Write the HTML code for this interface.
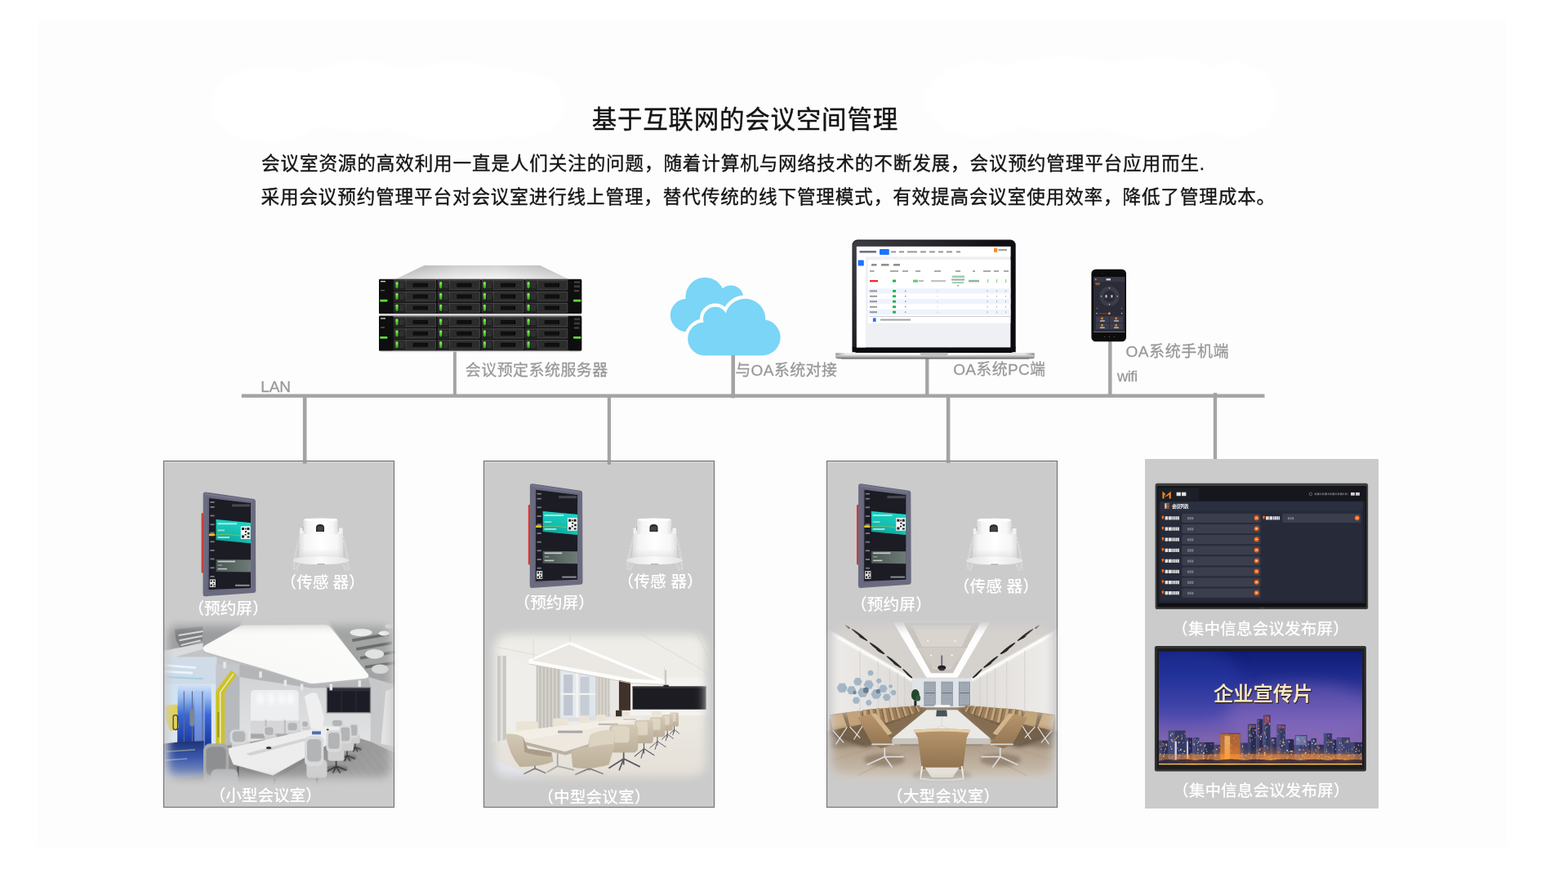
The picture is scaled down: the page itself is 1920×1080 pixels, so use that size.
<!DOCTYPE html><html lang="zh"><head><meta charset="utf-8"><title>基于互联网的会议空间管理</title><style>html,body{margin:0;padding:0;background:#fff;}body{width:1920px;height:1080px;overflow:hidden;position:relative;font-family:"Liberation Sans","Noto Sans CJK SC",sans-serif;}svg{position:absolute;left:0;top:0;display:block}svg text{font-family:"Liberation Sans","Noto Sans CJK SC",sans-serif;white-space:pre}</style></head><body><svg width="1920" height="1080" viewBox="0 0 1920 1080"><defs><filter id="b1" x="-0.2" y="-0.2" width="1.4" height="1.4"><feGaussianBlur stdDeviation="1"/></filter><filter id="b2" x="-0.2" y="-0.2" width="1.4" height="1.4"><feGaussianBlur stdDeviation="2"/></filter><filter id="b3" x="-0.2" y="-0.2" width="1.4" height="1.4"><feGaussianBlur stdDeviation="3"/></filter><filter id="b5" x="-0.4" y="-0.4" width="1.8" height="1.8"><feGaussianBlur stdDeviation="5"/></filter><filter id="b8" x="-0.5" y="-0.5" width="2.0" height="2.0"><feGaussianBlur stdDeviation="8"/></filter><filter id="bh" x="-0.2" y="-0.2" width="1.4" height="1.4"><feGaussianBlur stdDeviation="0.6"/></filter><linearGradient id="svTop" x1="0" y1="0" x2="1" y2="0"><stop offset="0" stop-color="#b9b9b9"/><stop offset="0.35" stop-color="#e9e9e9"/><stop offset="0.6" stop-color="#f2f2f2"/><stop offset="1" stop-color="#c2c2c2"/></linearGradient><linearGradient id="svTopV" x1="0" y1="0" x2="0" y2="1"><stop offset="0" stop-color="#9a9a9a"/><stop offset="1" stop-color="#ffffff"/></linearGradient><linearGradient id="svBay" x1="0" y1="0" x2="0" y2="1"><stop offset="0" stop-color="#3a3a3a"/><stop offset="0.5" stop-color="#262626"/><stop offset="1" stop-color="#1c1c1c"/></linearGradient><linearGradient id="svLed" x1="0" y1="0" x2="0" y2="1"><stop offset="0" stop-color="#9cf06a"/><stop offset="0.5" stop-color="#4fd12e"/><stop offset="1" stop-color="#2c9a1a"/></linearGradient><linearGradient id="lpBezel" x1="0" y1="0" x2="1" y2="0.7"><stop offset="0" stop-color="#3e3e46"/><stop offset="0.3" stop-color="#2a2a30"/><stop offset="0.6" stop-color="#101014"/><stop offset="1" stop-color="#0a0a0c"/></linearGradient><linearGradient id="lpBase" x1="0" y1="0" x2="0" y2="1"><stop offset="0" stop-color="#f4f4f4"/><stop offset="0.35" stop-color="#d9d9d9"/><stop offset="0.7" stop-color="#a9a9a9"/><stop offset="1" stop-color="#6f6f6f"/></linearGradient><linearGradient id="lpBaseH" x1="0" y1="0" x2="1" y2="0"><stop offset="0" stop-color="#8e8e8e"/><stop offset="0.05" stop-color="#e9e9e9"/><stop offset="0.5" stop-color="#ffffff"/><stop offset="0.95" stop-color="#e3e3e3"/><stop offset="1" stop-color="#8a8a8a"/></linearGradient><linearGradient id="tbTeal" x1="0.2" y1="0" x2="0.5" y2="1"><stop offset="0" stop-color="#1ed0bf"/><stop offset="0.55" stop-color="#14b3a6"/><stop offset="1" stop-color="#0c8f87"/></linearGradient><linearGradient id="tbTealH" x1="0" y1="0" x2="1" y2="0"><stop offset="0" stop-color="#0fe0d0" stop-opacity="0"/><stop offset="1" stop-color="#22ecdc" stop-opacity="0.55"/></linearGradient><linearGradient id="tbGray" x1="0" y1="0" x2="1" y2="0"><stop offset="0" stop-color="#4a5553"/><stop offset="1" stop-color="#6e7c77"/></linearGradient><linearGradient id="tbFrame" x1="0" y1="0" x2="1" y2="0"><stop offset="0" stop-color="#62627a"/><stop offset="1" stop-color="#74748a"/></linearGradient><linearGradient id="snBody" x1="0" y1="0" x2="1" y2="0"><stop offset="0" stop-color="#dcdcdc"/><stop offset="0.14" stop-color="#f4f4f4"/><stop offset="0.5" stop-color="#ffffff"/><stop offset="0.86" stop-color="#f6f6f6"/><stop offset="1" stop-color="#dedede"/></linearGradient><linearGradient id="snShade" x1="0" y1="0" x2="0" y2="1"><stop offset="0" stop-color="#d0d0d0" stop-opacity="0"/><stop offset="1" stop-color="#cfcfcf" stop-opacity="0.55"/></linearGradient><linearGradient id="snFl" x1="0" y1="0" x2="1" y2="0"><stop offset="0" stop-color="#e2e2e2"/><stop offset="0.5" stop-color="#fafafa"/><stop offset="1" stop-color="#e4e4e4"/></linearGradient><linearGradient id="sky" x1="0" y1="0" x2="0" y2="1"><stop offset="0" stop-color="#101c74"/><stop offset="0.22" stop-color="#1f2c8e"/><stop offset="0.45" stop-color="#4743a2"/><stop offset="0.62" stop-color="#6a58b2"/><stop offset="0.78" stop-color="#8064ae"/><stop offset="0.9" stop-color="#7a5a98"/><stop offset="1" stop-color="#5a4070"/></linearGradient><radialGradient id="glow" cx="0.5" cy="0.5" r="0.5"><stop offset="0" stop-color="#ffb347" stop-opacity="0.95"/><stop offset="0.45" stop-color="#ff8a2a" stop-opacity="0.45"/><stop offset="1" stop-color="#ff8a2a" stop-opacity="0"/></radialGradient><clipPath id="tv2c"><rect x="108" y="125" width="1120" height="625"/></clipPath><filter id="tvb" x="-0.3" y="-0.3" width="1.6" height="1.6"><feGaussianBlur stdDeviation="40"/></filter><filter id="s2" x="-0.15" y="-0.15" width="1.3" height="1.3"><feGaussianBlur stdDeviation="2.5"/></filter><filter id="s5" x="-0.15" y="-0.15" width="1.3" height="1.3"><feGaussianBlur stdDeviation="5"/></filter><filter id="s10" x="-0.15" y="-0.15" width="1.3" height="1.3"><feGaussianBlur stdDeviation="10"/></filter><filter id="s20" x="-0.15" y="-0.15" width="1.3" height="1.3"><feGaussianBlur stdDeviation="20"/></filter><filter id="R1f" filterUnits="userSpaceOnUse" x="-200" y="-172" width="1861" height="1414"><feGaussianBlur stdDeviation="26"/></filter><mask id="R1" maskUnits="userSpaceOnUse" x="-200" y="-172" width="1861" height="1414"><rect x="30" y="58" width="1401" height="954" rx="60" fill="#fff" filter="url(#R1f)"/></mask><linearGradient id="r1blue" x1="0" y1="0" x2="0" y2="1"><stop offset="0" stop-color="#d5e4f7"/><stop offset="0.18" stop-color="#93b7f0"/><stop offset="0.4" stop-color="#3a68d8"/><stop offset="0.68" stop-color="#2446b0"/><stop offset="1" stop-color="#14204e"/></linearGradient><linearGradient id="r1refl" x1="0" y1="0" x2="0" y2="1"><stop offset="0" stop-color="#1e3276"/><stop offset="0.4" stop-color="#3b59ae"/><stop offset="1" stop-color="#a2abc0"/></linearGradient><linearGradient id="r1pan" x1="0" y1="1" x2="1" y2="0"><stop offset="0" stop-color="#ecece9"/><stop offset="0.3" stop-color="#f9f9f7"/><stop offset="1" stop-color="#fdfdfc"/></linearGradient><linearGradient id="r1fl" x1="0" y1="0" x2="1" y2="0.3"><stop offset="0" stop-color="#929395"/><stop offset="0.6" stop-color="#8f8f8f"/><stop offset="1" stop-color="#9f9f9f"/></linearGradient><linearGradient id="r1wall" x1="0" y1="0" x2="0" y2="1"><stop offset="0" stop-color="#cfd1d3"/><stop offset="1" stop-color="#e2e3e5"/></linearGradient><filter id="R2f" filterUnits="userSpaceOnUse" x="-170" y="-178" width="1882" height="1424"><feGaussianBlur stdDeviation="33"/></filter><mask id="R2" maskUnits="userSpaceOnUse" x="-170" y="-178" width="1882" height="1424"><rect x="72" y="64" width="1398" height="940" rx="90" fill="#fff" filter="url(#R2f)"/></mask><linearGradient id="r2fl" x1="0" y1="0" x2="0" y2="1"><stop offset="0" stop-color="#ece9e3"/><stop offset="1" stop-color="#e3ded5"/></linearGradient><linearGradient id="r2ch" x1="0" y1="0" x2="0" y2="1"><stop offset="0" stop-color="#d4c9b6"/><stop offset="1" stop-color="#bcb09a"/></linearGradient><filter id="R3f" filterUnits="userSpaceOnUse" x="-200" y="-190" width="1882" height="1440"><feGaussianBlur stdDeviation="30"/></filter><mask id="R3" maskUnits="userSpaceOnUse" x="-200" y="-190" width="1882" height="1440"><rect x="38" y="48" width="1406" height="964" rx="80" fill="#fff" filter="url(#R3f)"/></mask><linearGradient id="r3fl" x1="0" y1="0" x2="0" y2="1"><stop offset="0" stop-color="#998670"/><stop offset="0.35" stop-color="#a8957e"/><stop offset="0.75" stop-color="#c2b5a4"/><stop offset="1" stop-color="#dcd5cc"/></linearGradient><linearGradient id="r3l" x1="0" y1="0" x2="1" y2="0"><stop offset="0" stop-color="#efedeb"/><stop offset="1" stop-color="#dcd9d5"/></linearGradient><linearGradient id="r3r" x1="0" y1="0" x2="1" y2="0"><stop offset="0" stop-color="#dedbd7"/><stop offset="1" stop-color="#f0eeec"/></linearGradient><linearGradient id="r3ch" x1="0" y1="0" x2="0" y2="1"><stop offset="0" stop-color="#b8966d"/><stop offset="1" stop-color="#8f7250"/></linearGradient></defs><rect x="0" y="0" width="1920" height="1080" fill="#fff"/><rect x="45" y="26" width="1800" height="1011" fill="#fdfdfd"/><g fill="#fff" filter="url(#b3)"><ellipse cx="330" cy="128" rx="72" ry="46" fill="#fff"/><ellipse cx="440" cy="118" rx="90" ry="42" fill="#fff"/><ellipse cx="560" cy="125" rx="110" ry="48" fill="#fff"/><ellipse cx="640" cy="128" rx="50" ry="40" fill="#fff"/><ellipse cx="1200" cy="122" rx="68" ry="46" fill="#fff"/><ellipse cx="1300" cy="115" rx="100" ry="46" fill="#fff"/><ellipse cx="1420" cy="120" rx="100" ry="50" fill="#fff"/><ellipse cx="1510" cy="122" rx="52" ry="46" fill="#fff"/></g><g><circle cx="863.3" cy="363.6" r="23.9" fill="#7ad5f6"/><circle cx="895" cy="364.6" r="15.2" fill="#7ad5f6"/><circle cx="841" cy="386" r="20.2" fill="#7ad5f6"/><rect x="845" y="364" width="60" height="36" fill="#7ad5f6"/></g><g stroke="#fdfdfd" stroke-width="8.4" stroke-linejoin="round"><circle cx="862.6" cy="414.9" r="20.4" fill="#fdfdfd"/><circle cx="933.6" cy="413.2" r="22" fill="#fdfdfd"/><circle cx="912.5" cy="390.6" r="24.8" fill="#fdfdfd"/><circle cx="875.8" cy="390.6" r="14.8" fill="#fdfdfd"/><rect x="862.6" y="404" width="71" height="31.3" fill="#fdfdfd"/><rect x="870" y="392" width="60" height="28" fill="#fdfdfd"/></g><g><circle cx="862.6" cy="414.9" r="20.4" fill="#7ad5f6"/><circle cx="933.6" cy="413.2" r="22" fill="#7ad5f6"/><circle cx="912.5" cy="390.6" r="24.8" fill="#7ad5f6"/><circle cx="875.8" cy="390.6" r="14.8" fill="#7ad5f6"/><rect x="862.6" y="404" width="71" height="31.3" fill="#7ad5f6"/><rect x="870" y="392" width="60" height="28" fill="#7ad5f6"/></g><rect x="295.8" y="482.5" width="1252.7" height="4.4" fill="#a3a4a3"/><rect x="370.9" y="486" width="4.6" height="81.7" fill="#a3a4a3"/><rect x="555" y="430" width="3.9" height="54" fill="#a3a4a3"/><rect x="743.8" y="486" width="4.2" height="82.8" fill="#a3a4a3"/><rect x="895.4" y="435" width="4.6" height="52.5" fill="#a3a4a3"/><rect x="1133.1" y="438.5" width="4.3" height="45.5" fill="#a3a4a3"/><rect x="1158.8" y="486" width="4.6" height="81" fill="#a3a4a3"/><rect x="1357.1" y="417.5" width="4.4" height="66.5" fill="#a3a4a3"/><rect x="1485.8" y="481" width="4.3" height="82" fill="#a3a4a3"/><rect x="200.5" y="564.5" width="282" height="423.9" fill="#cbcbcb" stroke="#6c6c6c" stroke-width="1.05"/><path d="M201.5 566 H481.5" stroke="#d9d9d9" stroke-width="1" opacity="0.8"/><rect x="592.5" y="564.5" width="282" height="423.9" fill="#cbcbcb" stroke="#6c6c6c" stroke-width="1.05"/><path d="M593.5 566 H873.5" stroke="#d9d9d9" stroke-width="1" opacity="0.8"/><rect x="1012.5" y="564.5" width="282" height="423.9" fill="#cbcbcb" stroke="#6c6c6c" stroke-width="1.05"/><path d="M1013.5 566 H1293.5" stroke="#d9d9d9" stroke-width="1" opacity="0.8"/><rect x="1402" y="562" width="286" height="428" fill="#cbcbcb"/><rect x="370.9" y="563" width="4.6" height="4.7" fill="#9c9c9c"/><rect x="743.8" y="563" width="4.2" height="5.8" fill="#9c9c9c"/><rect x="1158.8" y="563" width="4.6" height="4" fill="#9c9c9c"/><polygon points="519.6,325 661.3,325 696.5,341.9 484.4,341.9" fill="url(#svTop)"/><polygon points="519.6,325 661.3,325 696.5,341.9 484.4,341.9" fill="url(#svTopV)" opacity="0.35"/><rect x="464" y="341.7" width="248.2" height="42.6" fill="#141414" rx="1.2"/><rect x="481.5" y="341.7" width="214.5" height="0.9" fill="#8a8a8a"/><rect x="482.2" y="342.6" width="52.2" height="13" fill="#0c0c0c"/><rect x="482.8" y="343.2" width="51" height="11.8" fill="url(#svBay)" stroke="#4c4c4c" stroke-width="0.5"/><rect x="484.4" y="345.2" width="3.2" height="8" fill="url(#svLed)" rx="1.4"/><rect x="488.6" y="345" width="6.6" height="8.4" fill="#2f2f2f" stroke="#1a1a1a" stroke-width="0.5"/><rect x="497" y="343.8" width="36.4" height="10.7" fill="#2c2c2c" stroke="#555" stroke-width="0.5"/><rect x="505.7" y="346.8" width="18" height="4.7" fill="#050505"/><path d="M506.7 348.2h16M506.7 350.1h16" stroke="#3c3c3c" stroke-width="0.7" stroke-dasharray="1.1 0.9" fill="none"/><rect x="535.9" y="342.6" width="52.2" height="13" fill="#0c0c0c"/><rect x="536.5" y="343.2" width="51" height="11.8" fill="url(#svBay)" stroke="#4c4c4c" stroke-width="0.5"/><rect x="538.1" y="345.2" width="3.2" height="8" fill="url(#svLed)" rx="1.4"/><rect x="542.3" y="345" width="6.6" height="8.4" fill="#2f2f2f" stroke="#1a1a1a" stroke-width="0.5"/><rect x="550.7" y="343.8" width="36.4" height="10.7" fill="#2c2c2c" stroke="#555" stroke-width="0.5"/><rect x="559.4" y="346.8" width="18" height="4.7" fill="#050505"/><path d="M560.4 348.2h16M560.4 350.1h16" stroke="#3c3c3c" stroke-width="0.7" stroke-dasharray="1.1 0.9" fill="none"/><rect x="589.6" y="342.6" width="52.2" height="13" fill="#0c0c0c"/><rect x="590.2" y="343.2" width="51" height="11.8" fill="url(#svBay)" stroke="#4c4c4c" stroke-width="0.5"/><rect x="591.8" y="345.2" width="3.2" height="8" fill="url(#svLed)" rx="1.4"/><rect x="596" y="345" width="6.6" height="8.4" fill="#2f2f2f" stroke="#1a1a1a" stroke-width="0.5"/><rect x="604.4" y="343.8" width="36.4" height="10.7" fill="#2c2c2c" stroke="#555" stroke-width="0.5"/><rect x="613.1" y="346.8" width="18" height="4.7" fill="#050505"/><path d="M614.1 348.2h16M614.1 350.1h16" stroke="#3c3c3c" stroke-width="0.7" stroke-dasharray="1.1 0.9" fill="none"/><rect x="643.3" y="342.6" width="52.2" height="13" fill="#0c0c0c"/><rect x="643.9" y="343.2" width="51" height="11.8" fill="url(#svBay)" stroke="#4c4c4c" stroke-width="0.5"/><rect x="645.5" y="345.2" width="3.2" height="8" fill="url(#svLed)" rx="1.4"/><rect x="649.7" y="345" width="6.6" height="8.4" fill="#2f2f2f" stroke="#1a1a1a" stroke-width="0.5"/><rect x="658.1" y="343.8" width="36.4" height="10.7" fill="#2c2c2c" stroke="#555" stroke-width="0.5"/><rect x="666.8" y="346.8" width="18" height="4.7" fill="#050505"/><path d="M667.8 348.2h16M667.8 350.1h16" stroke="#3c3c3c" stroke-width="0.7" stroke-dasharray="1.1 0.9" fill="none"/><rect x="482.2" y="356.5" width="52.2" height="13" fill="#0c0c0c"/><rect x="482.8" y="357.1" width="51" height="11.8" fill="url(#svBay)" stroke="#4c4c4c" stroke-width="0.5"/><rect x="484.4" y="359.1" width="3.2" height="8" fill="url(#svLed)" rx="1.4"/><rect x="488.6" y="358.9" width="6.6" height="8.4" fill="#2f2f2f" stroke="#1a1a1a" stroke-width="0.5"/><rect x="497" y="357.7" width="36.4" height="10.7" fill="#2c2c2c" stroke="#555" stroke-width="0.5"/><rect x="505.7" y="360.7" width="18" height="4.7" fill="#050505"/><path d="M506.7 362.1h16M506.7 364h16" stroke="#3c3c3c" stroke-width="0.7" stroke-dasharray="1.1 0.9" fill="none"/><rect x="535.9" y="356.5" width="52.2" height="13" fill="#0c0c0c"/><rect x="536.5" y="357.1" width="51" height="11.8" fill="url(#svBay)" stroke="#4c4c4c" stroke-width="0.5"/><rect x="538.1" y="359.1" width="3.2" height="8" fill="url(#svLed)" rx="1.4"/><rect x="542.3" y="358.9" width="6.6" height="8.4" fill="#2f2f2f" stroke="#1a1a1a" stroke-width="0.5"/><rect x="550.7" y="357.7" width="36.4" height="10.7" fill="#2c2c2c" stroke="#555" stroke-width="0.5"/><rect x="559.4" y="360.7" width="18" height="4.7" fill="#050505"/><path d="M560.4 362.1h16M560.4 364h16" stroke="#3c3c3c" stroke-width="0.7" stroke-dasharray="1.1 0.9" fill="none"/><rect x="589.6" y="356.5" width="52.2" height="13" fill="#0c0c0c"/><rect x="590.2" y="357.1" width="51" height="11.8" fill="url(#svBay)" stroke="#4c4c4c" stroke-width="0.5"/><rect x="591.8" y="359.1" width="3.2" height="8" fill="url(#svLed)" rx="1.4"/><rect x="596" y="358.9" width="6.6" height="8.4" fill="#2f2f2f" stroke="#1a1a1a" stroke-width="0.5"/><rect x="604.4" y="357.7" width="36.4" height="10.7" fill="#2c2c2c" stroke="#555" stroke-width="0.5"/><rect x="613.1" y="360.7" width="18" height="4.7" fill="#050505"/><path d="M614.1 362.1h16M614.1 364h16" stroke="#3c3c3c" stroke-width="0.7" stroke-dasharray="1.1 0.9" fill="none"/><rect x="643.3" y="356.5" width="52.2" height="13" fill="#0c0c0c"/><rect x="643.9" y="357.1" width="51" height="11.8" fill="url(#svBay)" stroke="#4c4c4c" stroke-width="0.5"/><rect x="645.5" y="359.1" width="3.2" height="8" fill="url(#svLed)" rx="1.4"/><rect x="649.7" y="358.9" width="6.6" height="8.4" fill="#2f2f2f" stroke="#1a1a1a" stroke-width="0.5"/><rect x="658.1" y="357.7" width="36.4" height="10.7" fill="#2c2c2c" stroke="#555" stroke-width="0.5"/><rect x="666.8" y="360.7" width="18" height="4.7" fill="#050505"/><path d="M667.8 362.1h16M667.8 364h16" stroke="#3c3c3c" stroke-width="0.7" stroke-dasharray="1.1 0.9" fill="none"/><rect x="482.2" y="370.4" width="52.2" height="13" fill="#0c0c0c"/><rect x="482.8" y="371" width="51" height="11.8" fill="url(#svBay)" stroke="#4c4c4c" stroke-width="0.5"/><rect x="484.4" y="373" width="3.2" height="8" fill="url(#svLed)" rx="1.4"/><rect x="488.6" y="372.8" width="6.6" height="8.4" fill="#2f2f2f" stroke="#1a1a1a" stroke-width="0.5"/><rect x="497" y="371.6" width="36.4" height="10.7" fill="#2c2c2c" stroke="#555" stroke-width="0.5"/><rect x="505.7" y="374.6" width="18" height="4.7" fill="#050505"/><path d="M506.7 376h16M506.7 377.9h16" stroke="#3c3c3c" stroke-width="0.7" stroke-dasharray="1.1 0.9" fill="none"/><rect x="535.9" y="370.4" width="52.2" height="13" fill="#0c0c0c"/><rect x="536.5" y="371" width="51" height="11.8" fill="url(#svBay)" stroke="#4c4c4c" stroke-width="0.5"/><rect x="538.1" y="373" width="3.2" height="8" fill="url(#svLed)" rx="1.4"/><rect x="542.3" y="372.8" width="6.6" height="8.4" fill="#2f2f2f" stroke="#1a1a1a" stroke-width="0.5"/><rect x="550.7" y="371.6" width="36.4" height="10.7" fill="#2c2c2c" stroke="#555" stroke-width="0.5"/><rect x="559.4" y="374.6" width="18" height="4.7" fill="#050505"/><path d="M560.4 376h16M560.4 377.9h16" stroke="#3c3c3c" stroke-width="0.7" stroke-dasharray="1.1 0.9" fill="none"/><rect x="589.6" y="370.4" width="52.2" height="13" fill="#0c0c0c"/><rect x="590.2" y="371" width="51" height="11.8" fill="url(#svBay)" stroke="#4c4c4c" stroke-width="0.5"/><rect x="591.8" y="373" width="3.2" height="8" fill="url(#svLed)" rx="1.4"/><rect x="596" y="372.8" width="6.6" height="8.4" fill="#2f2f2f" stroke="#1a1a1a" stroke-width="0.5"/><rect x="604.4" y="371.6" width="36.4" height="10.7" fill="#2c2c2c" stroke="#555" stroke-width="0.5"/><rect x="613.1" y="374.6" width="18" height="4.7" fill="#050505"/><path d="M614.1 376h16M614.1 377.9h16" stroke="#3c3c3c" stroke-width="0.7" stroke-dasharray="1.1 0.9" fill="none"/><rect x="643.3" y="370.4" width="52.2" height="13" fill="#0c0c0c"/><rect x="643.9" y="371" width="51" height="11.8" fill="url(#svBay)" stroke="#4c4c4c" stroke-width="0.5"/><rect x="645.5" y="373" width="3.2" height="8" fill="url(#svLed)" rx="1.4"/><rect x="649.7" y="372.8" width="6.6" height="8.4" fill="#2f2f2f" stroke="#1a1a1a" stroke-width="0.5"/><rect x="658.1" y="371.6" width="36.4" height="10.7" fill="#2c2c2c" stroke="#555" stroke-width="0.5"/><rect x="666.8" y="374.6" width="18" height="4.7" fill="#050505"/><path d="M667.8 376h16M667.8 377.9h16" stroke="#3c3c3c" stroke-width="0.7" stroke-dasharray="1.1 0.9" fill="none"/><rect x="464" y="342.3" width="17" height="41.7" fill="#0e0e0e" rx="1.4"/><rect x="465.2" y="366.7" width="9.3" height="2.8" fill="#62d83c" rx="0.8"/><rect x="466" y="343.9" width="6" height="1.4" fill="#cfcfcf"/><rect x="466" y="355.2" width="5" height="1" fill="#777"/><rect x="696.5" y="342.3" width="15.7" height="41.7" fill="#0e0e0e" rx="1.4"/><rect x="702" y="366.7" width="9.4" height="2.8" fill="#62d83c" rx="0.8"/><rect x="703" y="344.2" width="7" height="2.7" fill="#3a3a3a"/><rect x="703" y="349.3" width="7" height="2.8" fill="#3a3a3a"/><rect x="703" y="355.1" width="6" height="2.2" fill="#444"/><rect x="464.5" y="384.3" width="247.3" height="2.9" fill="#d6d6d6"/><rect x="464.5" y="386.4" width="247.3" height="0.8" fill="#8c8c8c"/><rect x="464" y="387" width="248.2" height="42.6" fill="#141414" rx="1.2"/><rect x="481.5" y="387" width="214.5" height="0.9" fill="#8a8a8a"/><rect x="482.2" y="387.9" width="52.2" height="13" fill="#0c0c0c"/><rect x="482.8" y="388.5" width="51" height="11.8" fill="url(#svBay)" stroke="#4c4c4c" stroke-width="0.5"/><rect x="484.4" y="390.5" width="3.2" height="8" fill="url(#svLed)" rx="1.4"/><rect x="488.6" y="390.3" width="6.6" height="8.4" fill="#2f2f2f" stroke="#1a1a1a" stroke-width="0.5"/><rect x="497" y="389.1" width="36.4" height="10.7" fill="#2c2c2c" stroke="#555" stroke-width="0.5"/><rect x="505.7" y="392.1" width="18" height="4.7" fill="#050505"/><path d="M506.7 393.5h16M506.7 395.4h16" stroke="#3c3c3c" stroke-width="0.7" stroke-dasharray="1.1 0.9" fill="none"/><rect x="535.9" y="387.9" width="52.2" height="13" fill="#0c0c0c"/><rect x="536.5" y="388.5" width="51" height="11.8" fill="url(#svBay)" stroke="#4c4c4c" stroke-width="0.5"/><rect x="538.1" y="390.5" width="3.2" height="8" fill="url(#svLed)" rx="1.4"/><rect x="542.3" y="390.3" width="6.6" height="8.4" fill="#2f2f2f" stroke="#1a1a1a" stroke-width="0.5"/><rect x="550.7" y="389.1" width="36.4" height="10.7" fill="#2c2c2c" stroke="#555" stroke-width="0.5"/><rect x="559.4" y="392.1" width="18" height="4.7" fill="#050505"/><path d="M560.4 393.5h16M560.4 395.4h16" stroke="#3c3c3c" stroke-width="0.7" stroke-dasharray="1.1 0.9" fill="none"/><rect x="589.6" y="387.9" width="52.2" height="13" fill="#0c0c0c"/><rect x="590.2" y="388.5" width="51" height="11.8" fill="url(#svBay)" stroke="#4c4c4c" stroke-width="0.5"/><rect x="591.8" y="390.5" width="3.2" height="8" fill="url(#svLed)" rx="1.4"/><rect x="596" y="390.3" width="6.6" height="8.4" fill="#2f2f2f" stroke="#1a1a1a" stroke-width="0.5"/><rect x="604.4" y="389.1" width="36.4" height="10.7" fill="#2c2c2c" stroke="#555" stroke-width="0.5"/><rect x="613.1" y="392.1" width="18" height="4.7" fill="#050505"/><path d="M614.1 393.5h16M614.1 395.4h16" stroke="#3c3c3c" stroke-width="0.7" stroke-dasharray="1.1 0.9" fill="none"/><rect x="643.3" y="387.9" width="52.2" height="13" fill="#0c0c0c"/><rect x="643.9" y="388.5" width="51" height="11.8" fill="url(#svBay)" stroke="#4c4c4c" stroke-width="0.5"/><rect x="645.5" y="390.5" width="3.2" height="8" fill="url(#svLed)" rx="1.4"/><rect x="649.7" y="390.3" width="6.6" height="8.4" fill="#2f2f2f" stroke="#1a1a1a" stroke-width="0.5"/><rect x="658.1" y="389.1" width="36.4" height="10.7" fill="#2c2c2c" stroke="#555" stroke-width="0.5"/><rect x="666.8" y="392.1" width="18" height="4.7" fill="#050505"/><path d="M667.8 393.5h16M667.8 395.4h16" stroke="#3c3c3c" stroke-width="0.7" stroke-dasharray="1.1 0.9" fill="none"/><rect x="482.2" y="401.8" width="52.2" height="13" fill="#0c0c0c"/><rect x="482.8" y="402.4" width="51" height="11.8" fill="url(#svBay)" stroke="#4c4c4c" stroke-width="0.5"/><rect x="484.4" y="404.4" width="3.2" height="8" fill="url(#svLed)" rx="1.4"/><rect x="488.6" y="404.2" width="6.6" height="8.4" fill="#2f2f2f" stroke="#1a1a1a" stroke-width="0.5"/><rect x="497" y="403" width="36.4" height="10.7" fill="#2c2c2c" stroke="#555" stroke-width="0.5"/><rect x="505.7" y="406" width="18" height="4.7" fill="#050505"/><path d="M506.7 407.4h16M506.7 409.3h16" stroke="#3c3c3c" stroke-width="0.7" stroke-dasharray="1.1 0.9" fill="none"/><rect x="535.9" y="401.8" width="52.2" height="13" fill="#0c0c0c"/><rect x="536.5" y="402.4" width="51" height="11.8" fill="url(#svBay)" stroke="#4c4c4c" stroke-width="0.5"/><rect x="538.1" y="404.4" width="3.2" height="8" fill="url(#svLed)" rx="1.4"/><rect x="542.3" y="404.2" width="6.6" height="8.4" fill="#2f2f2f" stroke="#1a1a1a" stroke-width="0.5"/><rect x="550.7" y="403" width="36.4" height="10.7" fill="#2c2c2c" stroke="#555" stroke-width="0.5"/><rect x="559.4" y="406" width="18" height="4.7" fill="#050505"/><path d="M560.4 407.4h16M560.4 409.3h16" stroke="#3c3c3c" stroke-width="0.7" stroke-dasharray="1.1 0.9" fill="none"/><rect x="589.6" y="401.8" width="52.2" height="13" fill="#0c0c0c"/><rect x="590.2" y="402.4" width="51" height="11.8" fill="url(#svBay)" stroke="#4c4c4c" stroke-width="0.5"/><rect x="591.8" y="404.4" width="3.2" height="8" fill="url(#svLed)" rx="1.4"/><rect x="596" y="404.2" width="6.6" height="8.4" fill="#2f2f2f" stroke="#1a1a1a" stroke-width="0.5"/><rect x="604.4" y="403" width="36.4" height="10.7" fill="#2c2c2c" stroke="#555" stroke-width="0.5"/><rect x="613.1" y="406" width="18" height="4.7" fill="#050505"/><path d="M614.1 407.4h16M614.1 409.3h16" stroke="#3c3c3c" stroke-width="0.7" stroke-dasharray="1.1 0.9" fill="none"/><rect x="643.3" y="401.8" width="52.2" height="13" fill="#0c0c0c"/><rect x="643.9" y="402.4" width="51" height="11.8" fill="url(#svBay)" stroke="#4c4c4c" stroke-width="0.5"/><rect x="645.5" y="404.4" width="3.2" height="8" fill="url(#svLed)" rx="1.4"/><rect x="649.7" y="404.2" width="6.6" height="8.4" fill="#2f2f2f" stroke="#1a1a1a" stroke-width="0.5"/><rect x="658.1" y="403" width="36.4" height="10.7" fill="#2c2c2c" stroke="#555" stroke-width="0.5"/><rect x="666.8" y="406" width="18" height="4.7" fill="#050505"/><path d="M667.8 407.4h16M667.8 409.3h16" stroke="#3c3c3c" stroke-width="0.7" stroke-dasharray="1.1 0.9" fill="none"/><rect x="482.2" y="415.7" width="52.2" height="13" fill="#0c0c0c"/><rect x="482.8" y="416.3" width="51" height="11.8" fill="url(#svBay)" stroke="#4c4c4c" stroke-width="0.5"/><rect x="484.4" y="418.3" width="3.2" height="8" fill="url(#svLed)" rx="1.4"/><rect x="488.6" y="418.1" width="6.6" height="8.4" fill="#2f2f2f" stroke="#1a1a1a" stroke-width="0.5"/><rect x="497" y="416.9" width="36.4" height="10.7" fill="#2c2c2c" stroke="#555" stroke-width="0.5"/><rect x="505.7" y="419.9" width="18" height="4.7" fill="#050505"/><path d="M506.7 421.3h16M506.7 423.2h16" stroke="#3c3c3c" stroke-width="0.7" stroke-dasharray="1.1 0.9" fill="none"/><rect x="535.9" y="415.7" width="52.2" height="13" fill="#0c0c0c"/><rect x="536.5" y="416.3" width="51" height="11.8" fill="url(#svBay)" stroke="#4c4c4c" stroke-width="0.5"/><rect x="538.1" y="418.3" width="3.2" height="8" fill="url(#svLed)" rx="1.4"/><rect x="542.3" y="418.1" width="6.6" height="8.4" fill="#2f2f2f" stroke="#1a1a1a" stroke-width="0.5"/><rect x="550.7" y="416.9" width="36.4" height="10.7" fill="#2c2c2c" stroke="#555" stroke-width="0.5"/><rect x="559.4" y="419.9" width="18" height="4.7" fill="#050505"/><path d="M560.4 421.3h16M560.4 423.2h16" stroke="#3c3c3c" stroke-width="0.7" stroke-dasharray="1.1 0.9" fill="none"/><rect x="589.6" y="415.7" width="52.2" height="13" fill="#0c0c0c"/><rect x="590.2" y="416.3" width="51" height="11.8" fill="url(#svBay)" stroke="#4c4c4c" stroke-width="0.5"/><rect x="591.8" y="418.3" width="3.2" height="8" fill="url(#svLed)" rx="1.4"/><rect x="596" y="418.1" width="6.6" height="8.4" fill="#2f2f2f" stroke="#1a1a1a" stroke-width="0.5"/><rect x="604.4" y="416.9" width="36.4" height="10.7" fill="#2c2c2c" stroke="#555" stroke-width="0.5"/><rect x="613.1" y="419.9" width="18" height="4.7" fill="#050505"/><path d="M614.1 421.3h16M614.1 423.2h16" stroke="#3c3c3c" stroke-width="0.7" stroke-dasharray="1.1 0.9" fill="none"/><rect x="643.3" y="415.7" width="52.2" height="13" fill="#0c0c0c"/><rect x="643.9" y="416.3" width="51" height="11.8" fill="url(#svBay)" stroke="#4c4c4c" stroke-width="0.5"/><rect x="645.5" y="418.3" width="3.2" height="8" fill="url(#svLed)" rx="1.4"/><rect x="649.7" y="418.1" width="6.6" height="8.4" fill="#2f2f2f" stroke="#1a1a1a" stroke-width="0.5"/><rect x="658.1" y="416.9" width="36.4" height="10.7" fill="#2c2c2c" stroke="#555" stroke-width="0.5"/><rect x="666.8" y="419.9" width="18" height="4.7" fill="#050505"/><path d="M667.8 421.3h16M667.8 423.2h16" stroke="#3c3c3c" stroke-width="0.7" stroke-dasharray="1.1 0.9" fill="none"/><rect x="464" y="387.6" width="17" height="41.7" fill="#0e0e0e" rx="1.4"/><rect x="465.2" y="412" width="9.3" height="2.8" fill="#62d83c" rx="0.8"/><rect x="466" y="389.2" width="6" height="1.4" fill="#cfcfcf"/><rect x="466" y="400.5" width="5" height="1" fill="#777"/><rect x="696.5" y="387.6" width="15.7" height="41.7" fill="#0e0e0e" rx="1.4"/><rect x="702" y="412" width="9.4" height="2.8" fill="#62d83c" rx="0.8"/><rect x="703" y="389.5" width="7" height="2.7" fill="#3a3a3a"/><rect x="703" y="394.6" width="7" height="2.8" fill="#3a3a3a"/><rect x="703" y="400.4" width="6" height="2.2" fill="#444"/><rect x="466" y="430" width="244" height="1.2" fill="#d0d0d0" opacity="0.7" filter="url(#bh)"/><rect x="1043.5" y="293.5" width="200.2" height="137.7" fill="#141418" rx="6.5"/><rect x="1044.3" y="294.4" width="198.4" height="137.8" fill="url(#lpBezel)" rx="5.8"/><rect x="1043.5" y="425" width="200.2" height="6.2" fill="#0b0b0e"/><rect x="1048.9" y="301.9" width="188.5" height="123.5" fill="#eef0f4"/><rect x="1048.9" y="301.9" width="188.5" height="12.4" fill="#ffffff"/><rect x="1048.9" y="314.3" width="11.1" height="111.1" fill="#ffffff"/><rect x="1062.8" y="318" width="174.6" height="77.7" fill="#ffffff"/><rect x="1050.6" y="318.4" width="7.2" height="7" fill="#1b74ff" rx="1"/><rect x="1077" y="304.9" width="11.8" height="7.1" fill="#1b74ff" rx="1.2"/><rect x="1217" y="304" width="4.2" height="4.8" fill="#ff8a1c"/><rect x="1222.5" y="305" width="10.5" height="2.2" fill="#555" opacity="0.55"/><rect x="1052.5" y="307" width="20.5" height="2.6" fill="#2b3a55" opacity="0.7"/><rect x="1091" y="307.4" width="6" height="2" fill="#444" opacity="0.55"/><rect x="1101" y="307.4" width="6" height="2" fill="#444" opacity="0.55"/><rect x="1111" y="307.4" width="12" height="2" fill="#444" opacity="0.55"/><rect x="1127" y="307.4" width="7" height="2" fill="#444" opacity="0.55"/><rect x="1138" y="307.4" width="7" height="2" fill="#444" opacity="0.55"/><rect x="1149" y="307.4" width="6" height="2" fill="#444" opacity="0.55"/><rect x="1159" y="307.4" width="7" height="2" fill="#444" opacity="0.55"/><rect x="1171" y="307.4" width="5" height="2" fill="#444" opacity="0.55"/><rect x="1067" y="323" width="6.5" height="2.6" fill="#444" opacity="0.6"/><rect x="1079" y="323" width="9.5" height="2.6" fill="#444" opacity="0.6"/><rect x="1094" y="323" width="8" height="2.6" fill="#444" opacity="0.6"/><rect x="1065" y="331" width="5.5" height="2" fill="#666" opacity="0.55"/><rect x="1090" y="331" width="10" height="2" fill="#666" opacity="0.55"/><rect x="1105" y="331" width="7" height="2" fill="#666" opacity="0.55"/><rect x="1121" y="331" width="6" height="2" fill="#666" opacity="0.55"/><rect x="1144" y="331" width="8" height="2" fill="#666" opacity="0.55"/><rect x="1170" y="331" width="6" height="2" fill="#666" opacity="0.55"/><rect x="1191" y="331" width="3" height="2" fill="#666" opacity="0.55"/><rect x="1204" y="331" width="9" height="2" fill="#666" opacity="0.55"/><rect x="1217" y="331" width="6" height="2" fill="#666" opacity="0.55"/><rect x="1229" y="331" width="6" height="2" fill="#666" opacity="0.55"/><rect x="1065" y="343" width="10" height="2.2" fill="#f5222d"/><rect x="1093" y="342.5" width="4" height="3" fill="#22b14c"/><rect x="1118" y="342.6" width="6" height="3" fill="#22b14c" opacity="0.7"/><rect x="1125" y="343" width="6" height="2" fill="#777" opacity="0.5"/><rect x="1140" y="343" width="18" height="2.2" fill="#777" opacity="0.45"/><rect x="1166" y="337.5" width="15" height="2.5" fill="#4a6" opacity="0.55"/><rect x="1165" y="341.4" width="16" height="2.2" fill="#567" opacity="0.55"/><rect x="1166" y="345" width="14" height="2.2" fill="#4a6" opacity="0.5"/><rect x="1172" y="349" width="2" height="1.4" fill="#555" opacity="0.6"/><rect x="1186" y="342.8" width="13" height="2.6" fill="#485" opacity="0.6"/><rect x="1209" y="342" width="1.2" height="4" fill="#3b3" opacity="0.6"/><rect x="1220" y="342" width="1.2" height="4" fill="#3b3" opacity="0.6"/><rect x="1231" y="342" width="1.2" height="4" fill="#3b3" opacity="0.6"/><rect x="1062.8" y="353.2" width="174.6" height="6.4" fill="#eef3fd"/><rect x="1065" y="355.4" width="9" height="2" fill="#555" opacity="0.6"/><rect x="1093" y="355" width="4" height="2.8" fill="#22b14c"/><rect x="1108" y="355.8" width="1.4" height="1.2" fill="#444" opacity="0.7"/><rect x="1147.5" y="356" width="1" height="0.8" fill="#777" opacity="0.6"/><rect x="1208.5" y="355.8" width="1.1" height="1.2" fill="#555" opacity="0.6"/><rect x="1220" y="355.8" width="1.1" height="1.2" fill="#555" opacity="0.6"/><rect x="1231" y="355.8" width="1.1" height="1.2" fill="#555" opacity="0.6"/><rect x="1065" y="361.8" width="9" height="2" fill="#555" opacity="0.6"/><rect x="1093" y="361.4" width="4" height="2.8" fill="#22b14c"/><rect x="1108" y="362.2" width="1.4" height="1.2" fill="#444" opacity="0.7"/><rect x="1147.5" y="362.4" width="1" height="0.8" fill="#777" opacity="0.6"/><rect x="1208.5" y="362.2" width="1.1" height="1.2" fill="#555" opacity="0.6"/><rect x="1220" y="362.2" width="1.1" height="1.2" fill="#555" opacity="0.6"/><rect x="1231" y="362.2" width="1.1" height="1.2" fill="#555" opacity="0.6"/><rect x="1062.8" y="366" width="174.6" height="6.4" fill="#eef3fd"/><rect x="1065" y="368.2" width="9" height="2" fill="#555" opacity="0.6"/><rect x="1093" y="367.8" width="4" height="2.8" fill="#22b14c"/><rect x="1108" y="368.6" width="1.4" height="1.2" fill="#444" opacity="0.7"/><rect x="1147.5" y="368.8" width="1" height="0.8" fill="#777" opacity="0.6"/><rect x="1208.5" y="368.6" width="1.1" height="1.2" fill="#555" opacity="0.6"/><rect x="1220" y="368.6" width="1.1" height="1.2" fill="#555" opacity="0.6"/><rect x="1231" y="368.6" width="1.1" height="1.2" fill="#555" opacity="0.6"/><rect x="1065" y="374.8" width="9" height="2" fill="#555" opacity="0.6"/><rect x="1093" y="374.4" width="4" height="2.8" fill="#22b14c"/><rect x="1108" y="375.2" width="1.4" height="1.2" fill="#444" opacity="0.7"/><rect x="1147.5" y="375.4" width="1" height="0.8" fill="#777" opacity="0.6"/><rect x="1208.5" y="375.2" width="1.1" height="1.2" fill="#555" opacity="0.6"/><rect x="1220" y="375.2" width="1.1" height="1.2" fill="#555" opacity="0.6"/><rect x="1231" y="375.2" width="1.1" height="1.2" fill="#555" opacity="0.6"/><rect x="1062.8" y="379" width="174.6" height="6.4" fill="#eef3fd"/><rect x="1065" y="381.2" width="9" height="2" fill="#555" opacity="0.6"/><rect x="1093" y="380.8" width="4" height="2.8" fill="#22b14c"/><rect x="1108" y="381.6" width="1.4" height="1.2" fill="#444" opacity="0.7"/><rect x="1147.5" y="381.8" width="1" height="0.8" fill="#777" opacity="0.6"/><rect x="1208.5" y="381.6" width="1.1" height="1.2" fill="#555" opacity="0.6"/><rect x="1220" y="381.6" width="1.1" height="1.2" fill="#555" opacity="0.6"/><rect x="1231" y="381.6" width="1.1" height="1.2" fill="#555" opacity="0.6"/><rect x="1064.5" y="387" width="172.9" height="1" fill="#cfcfcf"/><rect x="1068.9" y="389.4" width="3.7" height="4.5" fill="#1b74ff"/><rect x="1078" y="390.6" width="37" height="2" fill="#555" opacity="0.55"/><rect x="1023" y="431.9" width="244" height="7.4" fill="url(#lpBase)" rx="3"/><rect x="1023" y="431.9" width="244" height="3.1" fill="url(#lpBaseH)" rx="1.5" opacity="0.85"/><path d="M1127 431.9h33.4v1.2a1.6 1.6 0 0 1-1.6 1.6h-30.2a1.6 1.6 0 0 1-1.6-1.6z" fill="#c3c3c3" stroke="#9a9a9a" stroke-width="0.4"/><rect x="1030" y="438.4" width="230" height="1.4" fill="#5a5a5a" rx="0.7" opacity="0.6" filter="url(#bh)"/><rect x="1336.4" y="329.7" width="42.6" height="88.5" fill="#0c0c0e" rx="5.2"/><rect x="1339" y="339" width="38.4" height="67.7" fill="#2b2c37"/><rect x="1339" y="339" width="38.4" height="6" fill="#363845"/><rect x="1354.5" y="341" width="5.5" height="2.4" fill="#e8e8e8" opacity="0.85"/><rect x="1341" y="341.4" width="1.4" height="1.6" fill="#ddd" opacity="0.7"/><rect x="1341" y="346.6" width="6" height="1" fill="#ff7a1a"/><rect x="1342" y="348.4" width="4" height="0.8" fill="#ff7a1a" opacity="0.7"/><circle cx="1358.4" cy="362.8" r="12.2" fill="#3b3c4a"/><circle cx="1358.4" cy="362.8" r="7.2" fill="#2a2b35"/><circle cx="1358.4" cy="352.8" r="0.7" fill="#d8d8d8"/><circle cx="1358.4" cy="372.8" r="0.7" fill="#d8d8d8"/><circle cx="1348.6" cy="362.8" r="0.7" fill="#d8d8d8"/><circle cx="1368.2" cy="362.8" r="0.7" fill="#d8d8d8"/><rect x="1353.4" y="361.2" width="2.2" height="3.2" fill="#e6e6e6" opacity="0.85"/><rect x="1360.4" y="361.2" width="2" height="3.2" fill="#e6e6e6" opacity="0.85"/><rect x="1345.5" y="383.6" width="12.5" height="0.7" fill="#ff7a1a" opacity="0.55"/><circle cx="1358.4" cy="383.8" r="1.5" fill="#ff8a2a"/><circle cx="1343" cy="383.8" r="0.8" fill="#ccc"/><circle cx="1373.6" cy="383.8" r="0.8" fill="#ccc"/><circle cx="1343.4" cy="377.6" r="0.7" fill="#999"/><circle cx="1373.4" cy="377.6" r="0.7" fill="#999"/><rect x="1341.7" y="387.4" width="16.2" height="7.6" fill="#3d3e4d"/><rect x="1348.3" y="388.6" width="2.4" height="2.6" fill="#ff8a2a" opacity="0.9"/><rect x="1346.9" y="392.2" width="5.8" height="1.4" fill="#e0e0e0" opacity="0.8"/><rect x="1341.7" y="395.8" width="16.2" height="7.6" fill="#3d3e4d"/><rect x="1348.3" y="397" width="2.4" height="2.6" fill="#ff8a2a" opacity="0.9"/><rect x="1346.9" y="400.6" width="5.8" height="1.4" fill="#e0e0e0" opacity="0.8"/><rect x="1358.9" y="387.4" width="16.2" height="7.6" fill="#3d3e4d"/><rect x="1365.5" y="388.6" width="2.4" height="2.6" fill="#ff8a2a" opacity="0.9"/><rect x="1364.1" y="392.2" width="5.8" height="1.4" fill="#e0e0e0" opacity="0.8"/><rect x="1358.9" y="395.8" width="16.2" height="7.6" fill="#3d3e4d"/><rect x="1365.5" y="397" width="2.4" height="2.6" fill="#ff8a2a" opacity="0.9"/><rect x="1364.1" y="400.6" width="5.8" height="1.4" fill="#e0e0e0" opacity="0.8"/><rect x="1339" y="406.2" width="38.4" height="0.8" fill="#9a9a9a" opacity="0.8"/><circle cx="1352.6" cy="412.4" r="0.7" fill="#555"/><circle cx="1358.4" cy="412.4" r="0.9" fill="#444"/><circle cx="1364.2" cy="412.4" r="0.7" fill="#555"/><circle cx="1349.6" cy="335" r="0.6" fill="#333"/><g transform="translate(0 0)"><rect x="246.6" y="628.3" width="3.9" height="73.3" fill="#e2332e" rx="1.2"/><polygon points="251.4,605.2 310.2,613.6 310.6,723.2 251.2,727.6" fill="url(#tbFrame)" stroke="#6b6b80" stroke-width="5.4" stroke-linejoin="round"/><path d="M250.4 604.8 L309.8 613.2" stroke="#8686a0" stroke-width="1" opacity="0.7"/><polygon points="256.1,610 307,616.1 307,720 255.7,722" fill="#1b1c24"/><polygon points="264.5,636.1 307,640.2 307,665.3 264.5,661.2" fill="url(#tbTeal)"/><polygon points="264.5,636.1 307,640.2 307,665.3 264.5,661.2" fill="url(#tbTealH)"/><polygon points="264.5,684.9 307,685.4 307,700.4 264.5,700" fill="url(#tbGray)"/><rect x="294.8" y="644.4" width="11.8" height="15.6" fill="#f4f4f4"/><path d="M296 646h3v3h-3zM302.4 646h3v3h-3zM296 655.6h3v3h-3zM300 650h2v2h-2zM303 652h2.5v2.4h-2.5zM299.6 654h2v1.6h-2zM302.6 656.6h2.8v2h-2.8zM300 646.5h1.4v2h-1.4z" fill="#1a1a1a"/><rect x="256.8" y="709.4" width="7.2" height="9.6" fill="#e8e8e8"/><path d="M257.6 710.4h2.2v2.2h-2.2zM261.2 710.6h2v2h-2zM257.6 715.6h2.2v2.4h-2.2zM260.6 714h1.6v1.6h-1.6zM261.4 716.4h2v1.8h-2z" fill="#222"/><rect x="255.8" y="653.4" width="7.2" height="2.9" fill="#f2c41c" rx="1.2"/><path d="M263 655 L279 654.2 L294 656" stroke="#d9c437" stroke-width="0.6" fill="none" opacity="0.8"/><rect x="266.5" y="640.4" width="23.5" height="1.8" fill="#e9fffb" opacity="0.75"/><rect x="266.5" y="648.6" width="8.5" height="1.6" fill="#e9fffb" opacity="0.6"/><rect x="266.5" y="657.2" width="14.5" height="1.8" fill="#e9fffb" opacity="0.7"/><rect x="266.5" y="686.6" width="21.5" height="1.8" fill="#eef2f0" opacity="0.75"/><rect x="266.5" y="691.4" width="5.5" height="1.2" fill="#eef2f0" opacity="0.5"/><rect x="266.5" y="695.8" width="11.5" height="1.6" fill="#eef2f0" opacity="0.7"/><rect x="257.4" y="614" width="5.2" height="1.8" fill="#c9c9d2" opacity="0.55"/><rect x="257.4" y="620" width="5.2" height="1.8" fill="#c9c9d2" opacity="0.55"/><rect x="257.4" y="630.6" width="5.2" height="1.8" fill="#c9c9d2" opacity="0.55"/><rect x="257.4" y="641.4" width="5.2" height="1.8" fill="#c9c9d2" opacity="0.55"/><rect x="257.4" y="651.6" width="5.2" height="1.8" fill="#c9c9d2" opacity="0.55"/><rect x="257.4" y="662.4" width="5.2" height="1.8" fill="#c9c9d2" opacity="0.55"/><rect x="257.4" y="673" width="5.2" height="1.8" fill="#c9c9d2" opacity="0.55"/><rect x="257.4" y="683.6" width="5.2" height="1.8" fill="#c9c9d2" opacity="0.55"/><rect x="257.4" y="694.4" width="5.2" height="1.8" fill="#c9c9d2" opacity="0.55"/><rect x="257.4" y="705" width="5.2" height="1.8" fill="#c9c9d2" opacity="0.55"/><rect x="284" y="617.4" width="22" height="3" fill="#9a9aa8" opacity="0.35"/><rect x="288" y="715.8" width="17.6" height="2" fill="#d8d8e0" opacity="0.6"/></g><g transform="translate(400.2 -10.2)"><rect x="246.6" y="628.3" width="3.9" height="73.3" fill="#e2332e" rx="1.2"/><polygon points="251.4,605.2 310.2,613.6 310.6,723.2 251.2,727.6" fill="url(#tbFrame)" stroke="#6b6b80" stroke-width="5.4" stroke-linejoin="round"/><path d="M250.4 604.8 L309.8 613.2" stroke="#8686a0" stroke-width="1" opacity="0.7"/><polygon points="256.1,610 307,616.1 307,720 255.7,722" fill="#1b1c24"/><polygon points="264.5,636.1 307,640.2 307,665.3 264.5,661.2" fill="url(#tbTeal)"/><polygon points="264.5,636.1 307,640.2 307,665.3 264.5,661.2" fill="url(#tbTealH)"/><polygon points="264.5,684.9 307,685.4 307,700.4 264.5,700" fill="url(#tbGray)"/><rect x="294.8" y="644.4" width="11.8" height="15.6" fill="#f4f4f4"/><path d="M296 646h3v3h-3zM302.4 646h3v3h-3zM296 655.6h3v3h-3zM300 650h2v2h-2zM303 652h2.5v2.4h-2.5zM299.6 654h2v1.6h-2zM302.6 656.6h2.8v2h-2.8zM300 646.5h1.4v2h-1.4z" fill="#1a1a1a"/><rect x="256.8" y="709.4" width="7.2" height="9.6" fill="#e8e8e8"/><path d="M257.6 710.4h2.2v2.2h-2.2zM261.2 710.6h2v2h-2zM257.6 715.6h2.2v2.4h-2.2zM260.6 714h1.6v1.6h-1.6zM261.4 716.4h2v1.8h-2z" fill="#222"/><rect x="255.8" y="653.4" width="7.2" height="2.9" fill="#f2c41c" rx="1.2"/><path d="M263 655 L279 654.2 L294 656" stroke="#d9c437" stroke-width="0.6" fill="none" opacity="0.8"/><rect x="266.5" y="640.4" width="23.5" height="1.8" fill="#e9fffb" opacity="0.75"/><rect x="266.5" y="648.6" width="8.5" height="1.6" fill="#e9fffb" opacity="0.6"/><rect x="266.5" y="657.2" width="14.5" height="1.8" fill="#e9fffb" opacity="0.7"/><rect x="266.5" y="686.6" width="21.5" height="1.8" fill="#eef2f0" opacity="0.75"/><rect x="266.5" y="691.4" width="5.5" height="1.2" fill="#eef2f0" opacity="0.5"/><rect x="266.5" y="695.8" width="11.5" height="1.6" fill="#eef2f0" opacity="0.7"/><rect x="257.4" y="614" width="5.2" height="1.8" fill="#c9c9d2" opacity="0.55"/><rect x="257.4" y="620" width="5.2" height="1.8" fill="#c9c9d2" opacity="0.55"/><rect x="257.4" y="630.6" width="5.2" height="1.8" fill="#c9c9d2" opacity="0.55"/><rect x="257.4" y="641.4" width="5.2" height="1.8" fill="#c9c9d2" opacity="0.55"/><rect x="257.4" y="651.6" width="5.2" height="1.8" fill="#c9c9d2" opacity="0.55"/><rect x="257.4" y="662.4" width="5.2" height="1.8" fill="#c9c9d2" opacity="0.55"/><rect x="257.4" y="673" width="5.2" height="1.8" fill="#c9c9d2" opacity="0.55"/><rect x="257.4" y="683.6" width="5.2" height="1.8" fill="#c9c9d2" opacity="0.55"/><rect x="257.4" y="694.4" width="5.2" height="1.8" fill="#c9c9d2" opacity="0.55"/><rect x="257.4" y="705" width="5.2" height="1.8" fill="#c9c9d2" opacity="0.55"/><rect x="284" y="617.4" width="22" height="3" fill="#9a9aa8" opacity="0.35"/><rect x="288" y="715.8" width="17.6" height="2" fill="#d8d8e0" opacity="0.6"/></g><g transform="translate(802.4 -10.2)"><rect x="246.6" y="628.3" width="3.9" height="73.3" fill="#e2332e" rx="1.2"/><polygon points="251.4,605.2 310.2,613.6 310.6,723.2 251.2,727.6" fill="url(#tbFrame)" stroke="#6b6b80" stroke-width="5.4" stroke-linejoin="round"/><path d="M250.4 604.8 L309.8 613.2" stroke="#8686a0" stroke-width="1" opacity="0.7"/><polygon points="256.1,610 307,616.1 307,720 255.7,722" fill="#1b1c24"/><polygon points="264.5,636.1 307,640.2 307,665.3 264.5,661.2" fill="url(#tbTeal)"/><polygon points="264.5,636.1 307,640.2 307,665.3 264.5,661.2" fill="url(#tbTealH)"/><polygon points="264.5,684.9 307,685.4 307,700.4 264.5,700" fill="url(#tbGray)"/><rect x="294.8" y="644.4" width="11.8" height="15.6" fill="#f4f4f4"/><path d="M296 646h3v3h-3zM302.4 646h3v3h-3zM296 655.6h3v3h-3zM300 650h2v2h-2zM303 652h2.5v2.4h-2.5zM299.6 654h2v1.6h-2zM302.6 656.6h2.8v2h-2.8zM300 646.5h1.4v2h-1.4z" fill="#1a1a1a"/><rect x="256.8" y="709.4" width="7.2" height="9.6" fill="#e8e8e8"/><path d="M257.6 710.4h2.2v2.2h-2.2zM261.2 710.6h2v2h-2zM257.6 715.6h2.2v2.4h-2.2zM260.6 714h1.6v1.6h-1.6zM261.4 716.4h2v1.8h-2z" fill="#222"/><rect x="255.8" y="653.4" width="7.2" height="2.9" fill="#f2c41c" rx="1.2"/><path d="M263 655 L279 654.2 L294 656" stroke="#d9c437" stroke-width="0.6" fill="none" opacity="0.8"/><rect x="266.5" y="640.4" width="23.5" height="1.8" fill="#e9fffb" opacity="0.75"/><rect x="266.5" y="648.6" width="8.5" height="1.6" fill="#e9fffb" opacity="0.6"/><rect x="266.5" y="657.2" width="14.5" height="1.8" fill="#e9fffb" opacity="0.7"/><rect x="266.5" y="686.6" width="21.5" height="1.8" fill="#eef2f0" opacity="0.75"/><rect x="266.5" y="691.4" width="5.5" height="1.2" fill="#eef2f0" opacity="0.5"/><rect x="266.5" y="695.8" width="11.5" height="1.6" fill="#eef2f0" opacity="0.7"/><rect x="257.4" y="614" width="5.2" height="1.8" fill="#c9c9d2" opacity="0.55"/><rect x="257.4" y="620" width="5.2" height="1.8" fill="#c9c9d2" opacity="0.55"/><rect x="257.4" y="630.6" width="5.2" height="1.8" fill="#c9c9d2" opacity="0.55"/><rect x="257.4" y="641.4" width="5.2" height="1.8" fill="#c9c9d2" opacity="0.55"/><rect x="257.4" y="651.6" width="5.2" height="1.8" fill="#c9c9d2" opacity="0.55"/><rect x="257.4" y="662.4" width="5.2" height="1.8" fill="#c9c9d2" opacity="0.55"/><rect x="257.4" y="673" width="5.2" height="1.8" fill="#c9c9d2" opacity="0.55"/><rect x="257.4" y="683.6" width="5.2" height="1.8" fill="#c9c9d2" opacity="0.55"/><rect x="257.4" y="694.4" width="5.2" height="1.8" fill="#c9c9d2" opacity="0.55"/><rect x="257.4" y="705" width="5.2" height="1.8" fill="#c9c9d2" opacity="0.55"/><rect x="284" y="617.4" width="22" height="3" fill="#9a9aa8" opacity="0.35"/><rect x="288" y="715.8" width="17.6" height="2" fill="#d8d8e0" opacity="0.6"/></g><g transform="translate(0 0)"><path d="M368.4 654 Q360.5 676 359.6 697.6 M366 690 L362.6 698.4" stroke="#ececec" stroke-width="1.9" fill="none"/><path d="M368.4 654 Q360.5 676 359.6 697.6 M366 690 L362.6 698.4" stroke="#8e8e8e" stroke-width="1.1" stroke-dasharray="0.9 1.3" fill="none" opacity="0.85"/><path d="M418.6 654 Q426.2 676 426.6 697.6 M420 690 L423.4 698.4" stroke="#ececec" stroke-width="1.9" fill="none"/><path d="M418.6 654 Q426.2 676 426.6 697.6 M420 690 L423.4 698.4" stroke="#8e8e8e" stroke-width="1.1" stroke-dasharray="0.9 1.3" fill="none" opacity="0.85"/><rect x="367" y="646.6" width="5.5" height="7.8" fill="#f1f1f1" rx="1.2"/><rect x="413.2" y="646.6" width="6.4" height="7.8" fill="#f1f1f1" rx="1.2"/><rect x="370.6" y="645.4" width="1.4" height="4.6" fill="#7a7a7a" opacity="0.6"/><rect x="413.6" y="646" width="1.2" height="5" fill="#8a8a8a" opacity="0.5"/><path d="M366.9 656 Q367 653.4 371.4 652.6 L413.8 652.6 Q419.8 653.4 420 656 L420.4 682.6 Q392.6 690.4 365.9 682.6 Z" fill="url(#snBody)"/><path d="M371.5 637.6 Q371.5 635 376 634.9 L409.5 634.9 Q413.7 635 413.7 637.6 L413.7 654 L371.5 654 Z" fill="url(#snBody)"/><ellipse cx="392.6" cy="636.6" rx="20.6" ry="2.2" fill="#fdfdfd"/><rect x="366.4" y="672" width="53.8" height="12" fill="url(#snShade)"/><path d="M387 651 V646 Q387 642 392 642 Q397 642 397 646 V651 Z" fill="#242424"/><rect x="388.3" y="644.2" width="7.5" height="6" fill="#444" rx="1.8"/><ellipse cx="392.9" cy="686.9" rx="34.9" ry="5.3" fill="#cfcfcf"/><ellipse cx="392.9" cy="686.1" rx="34.8" ry="5.1" fill="url(#snFl)"/><rect x="388.4" y="690.2" width="9.2" height="1.2" fill="#8d8d8d" opacity="0.75"/></g><g transform="translate(408.5 0)"><path d="M368.4 654 Q360.5 676 359.6 697.6 M366 690 L362.6 698.4" stroke="#ececec" stroke-width="1.9" fill="none"/><path d="M368.4 654 Q360.5 676 359.6 697.6 M366 690 L362.6 698.4" stroke="#8e8e8e" stroke-width="1.1" stroke-dasharray="0.9 1.3" fill="none" opacity="0.85"/><path d="M418.6 654 Q426.2 676 426.6 697.6 M420 690 L423.4 698.4" stroke="#ececec" stroke-width="1.9" fill="none"/><path d="M418.6 654 Q426.2 676 426.6 697.6 M420 690 L423.4 698.4" stroke="#8e8e8e" stroke-width="1.1" stroke-dasharray="0.9 1.3" fill="none" opacity="0.85"/><rect x="367" y="646.6" width="5.5" height="7.8" fill="#f1f1f1" rx="1.2"/><rect x="413.2" y="646.6" width="6.4" height="7.8" fill="#f1f1f1" rx="1.2"/><rect x="370.6" y="645.4" width="1.4" height="4.6" fill="#7a7a7a" opacity="0.6"/><rect x="413.6" y="646" width="1.2" height="5" fill="#8a8a8a" opacity="0.5"/><path d="M366.9 656 Q367 653.4 371.4 652.6 L413.8 652.6 Q419.8 653.4 420 656 L420.4 682.6 Q392.6 690.4 365.9 682.6 Z" fill="url(#snBody)"/><path d="M371.5 637.6 Q371.5 635 376 634.9 L409.5 634.9 Q413.7 635 413.7 637.6 L413.7 654 L371.5 654 Z" fill="url(#snBody)"/><ellipse cx="392.6" cy="636.6" rx="20.6" ry="2.2" fill="#fdfdfd"/><rect x="366.4" y="672" width="53.8" height="12" fill="url(#snShade)"/><path d="M387 651 V646 Q387 642 392 642 Q397 642 397 646 V651 Z" fill="#242424"/><rect x="388.3" y="644.2" width="7.5" height="6" fill="#444" rx="1.8"/><ellipse cx="392.9" cy="686.9" rx="34.9" ry="5.3" fill="#cfcfcf"/><ellipse cx="392.9" cy="686.1" rx="34.8" ry="5.1" fill="url(#snFl)"/><rect x="388.4" y="690.2" width="9.2" height="1.2" fill="#8d8d8d" opacity="0.75"/></g><g transform="translate(824.8 0.3)"><path d="M368.4 654 Q360.5 676 359.6 697.6 M366 690 L362.6 698.4" stroke="#ececec" stroke-width="1.9" fill="none"/><path d="M368.4 654 Q360.5 676 359.6 697.6 M366 690 L362.6 698.4" stroke="#8e8e8e" stroke-width="1.1" stroke-dasharray="0.9 1.3" fill="none" opacity="0.85"/><path d="M418.6 654 Q426.2 676 426.6 697.6 M420 690 L423.4 698.4" stroke="#ececec" stroke-width="1.9" fill="none"/><path d="M418.6 654 Q426.2 676 426.6 697.6 M420 690 L423.4 698.4" stroke="#8e8e8e" stroke-width="1.1" stroke-dasharray="0.9 1.3" fill="none" opacity="0.85"/><rect x="367" y="646.6" width="5.5" height="7.8" fill="#f1f1f1" rx="1.2"/><rect x="413.2" y="646.6" width="6.4" height="7.8" fill="#f1f1f1" rx="1.2"/><rect x="370.6" y="645.4" width="1.4" height="4.6" fill="#7a7a7a" opacity="0.6"/><rect x="413.6" y="646" width="1.2" height="5" fill="#8a8a8a" opacity="0.5"/><path d="M366.9 656 Q367 653.4 371.4 652.6 L413.8 652.6 Q419.8 653.4 420 656 L420.4 682.6 Q392.6 690.4 365.9 682.6 Z" fill="url(#snBody)"/><path d="M371.5 637.6 Q371.5 635 376 634.9 L409.5 634.9 Q413.7 635 413.7 637.6 L413.7 654 L371.5 654 Z" fill="url(#snBody)"/><ellipse cx="392.6" cy="636.6" rx="20.6" ry="2.2" fill="#fdfdfd"/><rect x="366.4" y="672" width="53.8" height="12" fill="url(#snShade)"/><path d="M387 651 V646 Q387 642 392 642 Q397 642 397 646 V651 Z" fill="#242424"/><rect x="388.3" y="644.2" width="7.5" height="6" fill="#444" rx="1.8"/><ellipse cx="392.9" cy="686.9" rx="34.9" ry="5.3" fill="#cfcfcf"/><ellipse cx="392.9" cy="686.1" rx="34.8" ry="5.1" fill="url(#snFl)"/><rect x="388.4" y="690.2" width="9.2" height="1.2" fill="#8d8d8d" opacity="0.75"/></g><g transform="translate(200 755) scale(0.19440)" mask="url(#R1)"><rect x="-20" y="0" width="1510" height="1070" fill="#c2c4c6"/><g filter="url(#s2)"><polygon points="0,20 500,20 480,62 250,192 0,275" fill="#9b9d9f"/><polygon points="70,80 250,60 245,150 110,200 80,150" fill="#7c7e80"/><path d="M95 118 L250 92 M100 150 L245 122 M110 180 L235 150" fill="none" stroke="#d9dbdd" stroke-width="10"/><polygon points="0,215 250,165 250,205 0,275" fill="#d9dbdd"/><polygon points="1030,20 1461,20 1461,430 1292,382" fill="#a2a4a4"/><path d="M1190 150 L1420 110 M1215 205 L1440 165 M1240 262 L1461 222 M1270 318 L1461 290" fill="none" stroke="#6a6c6c" stroke-width="18"/><ellipse cx="1245" cy="100" rx="70" ry="24" fill="#ececec"/><ellipse cx="1330" cy="235" rx="60" ry="30" fill="#e2e2e2"/><ellipse cx="1390" cy="105" rx="35" ry="15" fill="#eeeeee"/><ellipse cx="1365" cy="330" rx="55" ry="30" fill="#d6d6d6"/><ellipse cx="1425" cy="60" rx="30" ry="14" fill="#e8e8e8"/><polygon points="1292,382 1461,430 1461,860 1305,785" fill="#c6c8ca"/><polygon points="1400,470 1461,440 1461,820 1370,800" fill="#e3e3e3"/><polygon points="478,300 930,420 1030,447 1305,440 1305,790 1030,700 478,805" fill="url(#r1wall)"/><polygon points="478,300 640,330 930,420 1290,385 1305,445 930,450 478,380" fill="#b3b5b7"/><rect x="550" y="462" width="302" height="242" fill="#eceeef" rx="22"/><ellipse cx="610" cy="520" rx="26" ry="40" fill="#fbfbfb" opacity="0.8" filter="url(#s10)"/><ellipse cx="680" cy="520" rx="26" ry="40" fill="#fbfbfb" opacity="0.8" filter="url(#s10)"/><ellipse cx="745" cy="520" rx="26" ry="40" fill="#fbfbfb" opacity="0.8" filter="url(#s10)"/><ellipse cx="800" cy="520" rx="26" ry="40" fill="#fbfbfb" opacity="0.8" filter="url(#s10)"/><path d="M888 505 Q930 470 965 482 Q1000 560 1012 640 L1002 725 L930 702 Z" fill="#efefef"/><rect x="1027" y="444" width="280" height="164" fill="#7a7c7e"/><rect x="1034" y="451" width="266" height="150" fill="#1e1f27"/><rect x="1034" y="451" width="266" height="19" fill="#2b2d38"/><rect x="1120" y="451" width="3" height="150" fill="#34353f"/><rect x="1212" y="451" width="3" height="150" fill="#34353f"/><rect x="0" y="255" width="335" height="790" fill="#dce5ee"/><rect x="0" y="255" width="335" height="170" fill="#cfdbe7"/><path d="M8 305 L205 322 M0 345 L185 355" fill="none" stroke="#eaf5ff" stroke-width="13"/><path d="M20 380 L250 392" fill="none" stroke="#9ecbf0" stroke-width="10" opacity="0.8"/><rect x="88" y="428" width="214" height="477" fill="url(#r1blue)"/><rect x="0" y="428" width="90" height="132" fill="#cfe3f3"/><rect x="196" y="470" width="66" height="420" fill="#a5c2f6" opacity="0.55"/><path d="M130 470 V890 M182 470 V890 M246 470 V890" fill="none" stroke="#5b6c90" stroke-width="6"/><rect x="166" y="580" width="30" height="110" fill="#7f8690" rx="12"/><polygon points="12,560 86,552 96,702 44,722 12,640" fill="#e2d252"/><rect x="62" y="620" width="28" height="92" fill="none" rx="13" stroke="#34363a" stroke-width="7"/><polygon points="0,800 90,790 255,782 255,1010 0,1045" fill="url(#r1refl)"/><path d="M20 850 L200 838 M10 905 L150 895" fill="none" stroke="#e6e9a0" stroke-width="7" opacity="0.5"/><polygon points="385,470 460,365 480,380 480,805 385,832" fill="#b6babf"/><polygon points="330,300 480,300 480,380 445,350 330,470" fill="#c5c8cb"/><polygon points="428,338 462,366 386,472 386,832 330,832 330,470" fill="#cdc327"/><path d="M442 360 L358 476 V822" fill="none" stroke="#ecebcf" stroke-width="8"/><rect x="340" y="600" width="12" height="160" fill="#8a8420" opacity="0.7"/><polygon points="255,830 480,802 1030,700 1305,788 1461,860 1461,1060 0,1060 0,1040 255,1000" fill="url(#r1fl)"/><path d="M1000 800 L1170 1050" fill="none" stroke="#8f8f8f" stroke-width="5" opacity="0.5"/><path d="M1055 806 L1225 1050" fill="none" stroke="#8f8f8f" stroke-width="5" opacity="0.5"/><path d="M1110 812 L1280 1050" fill="none" stroke="#8f8f8f" stroke-width="5" opacity="0.5"/><path d="M1165 818 L1335 1050" fill="none" stroke="#8f8f8f" stroke-width="5" opacity="0.5"/><path d="M1220 824 L1390 1050" fill="none" stroke="#8f8f8f" stroke-width="5" opacity="0.5"/><path d="M1275 830 L1445 1050" fill="none" stroke="#8f8f8f" stroke-width="5" opacity="0.5"/><path d="M1330 836 L1500 1050" fill="none" stroke="#8f8f8f" stroke-width="5" opacity="0.5"/><path d="M1385 842 L1555 1050" fill="none" stroke="#8f8f8f" stroke-width="5" opacity="0.5"/><path d="M1440 848 L1610 1050" fill="none" stroke="#8f8f8f" stroke-width="5" opacity="0.5"/><path d="M250 203 Q246 186 288 166 L468 66 Q490 54 520 54 L1018 51 Q1040 51 1054 70 L1290 364 Q1302 386 1270 389 L952 421 Q930 424 900 413 L640 331 L272 224 Q252 218 250 203Z" fill="#b9bbbd" transform="translate(2 12)"/><path d="M250 203 Q246 186 288 166 L468 66 Q490 54 520 54 L1018 51 Q1040 51 1054 70 L1290 364 Q1302 386 1270 389 L952 421 Q930 424 900 413 L640 331 L272 224 Q252 218 250 203Z" fill="url(#r1pan)"/><rect x="603" y="345" width="18" height="40" fill="#e6e8ea"/><rect x="759" y="398" width="18" height="40" fill="#e6e8ea"/><rect x="863" y="424" width="18" height="40" fill="#e6e8ea"/><rect x="1047" y="424" width="18" height="40" fill="#e6e8ea"/><rect x="1227" y="402" width="18" height="40" fill="#e6e8ea"/><rect x="377" y="285" width="18" height="40" fill="#e6e8ea"/><rect x="550" y="655" width="312" height="87" fill="#d6d6d8" rx="8"/><rect x="640" y="650" width="10" height="92" fill="#bcbcbe"/><rect x="760" y="650" width="10" height="92" fill="#bcbcbe"/><rect x="550" y="738" width="312" height="30" fill="#a5a7a9"/><rect x="431" y="783.8" width="118.8" height="55.2" fill="#cfcfcf" rx="22"/><rect x="420" y="712" width="110" height="91.1" fill="#d9d9d9" rx="30.8"/><rect x="434.3" y="721.7" width="81.4" height="67.6" fill="#b2b4b6" rx="22"/><rect x="637.2" y="742" width="77.8" height="40" fill="#cfcfcf" rx="14.4"/><rect x="630" y="690" width="72" height="66" fill="#d9d9d9" rx="20.2"/><rect x="639.4" y="697" width="53.3" height="49" fill="#b2b4b6" rx="14.4"/><rect x="782.7" y="713" width="83.2" height="39.2" fill="#cfcfcf" rx="15.4"/><rect x="775" y="662" width="77" height="64.7" fill="#d9d9d9" rx="21.6"/><rect x="785" y="668.9" width="57" height="48" fill="#b2b4b6" rx="15.4"/><rect x="874.6" y="690.2" width="49.7" height="24.8" fill="#cfcfcf" rx="9.2"/><rect x="870" y="658" width="46" height="40.9" fill="#d9d9d9" rx="12.9"/><rect x="876" y="662.3" width="34" height="30.4" fill="#b2b4b6" rx="9.2"/><rect x="1063.1" y="685.4" width="87.5" height="28.8" fill="#cfcfcf" rx="16.2"/><rect x="1055" y="648" width="81" height="47.5" fill="#d9d9d9" rx="22.7"/><rect x="1065.5" y="653" width="59.9" height="35.3" fill="#b2b4b6" rx="16.2"/><polygon points="440,930 690,1000 1185,722 1188,748 693,1030 440,952" fill="#888a8c"/><path d="M470 945 V1010 M700 1020 V1060 M1120 770 V830" fill="none" stroke="#55575a" stroke-width="12"/><polygon points="400,832 1020,690 1150,698 1186,722 690,1000 440,930" fill="#f4f4f4"/><polygon points="400,832 1020,690 1150,698 1186,722 690,1000 440,930" fill="#dfe0e2" opacity="0.35"/><polygon points="520,862 905,762 930,772 548,876" fill="#d2d3d5"/><rect x="936" y="722" width="56" height="20" fill="#4a6cb4"/><ellipse cx="664" cy="826" rx="16" ry="8" fill="#2a2a2c"/><ellipse cx="1035" cy="712" rx="8" ry="5" fill="#333"/><ellipse cx="1208.4" cy="832.1" rx="42" ry="13.8" fill="#4a4c4e" opacity="0.45" filter="url(#s5)"/><path d="M1174.8 843.1 L1208.4 821 L1244.8 837.6 M1208.4 796.2 V827.9 M1197.2 848.6 L1208.4 821 L1222.4 848.6" fill="none" stroke="#333537" stroke-width="6" stroke-linecap="round" opacity="0.9"/><rect x="1177.6" y="743.8" width="60.5" height="55.2" fill="#cfcfcf" rx="11.2"/><rect x="1172" y="672" width="56" height="91.1" fill="#d9d9d9" rx="15.7"/><rect x="1179.3" y="681.7" width="41.4" height="67.6" fill="#b2b4b6" rx="11.2"/><ellipse cx="1157.4" cy="887.8" rx="57" ry="17.4" fill="#4a4c4e" opacity="0.45" filter="url(#s5)"/><path d="M1111.8 901.8 L1157.4 873.9 L1206.8 894.8 M1157.4 842.6 V882.6 M1142.2 908.7 L1157.4 873.9 L1176.4 908.7" fill="none" stroke="#333537" stroke-width="6.84" stroke-linecap="round" opacity="0.9"/><rect x="1115.6" y="776.5" width="82.1" height="69.6" fill="#cfcfcf" rx="15.2"/><rect x="1108" y="686" width="76" height="114.8" fill="#d9d9d9" rx="21.3"/><rect x="1117.9" y="698.2" width="56.2" height="85.3" fill="#b2b4b6" rx="15.2"/><ellipse cx="1088.4" cy="958.4" rx="72" ry="20.9" fill="#4a4c4e" opacity="0.45" filter="url(#s5)"/><path d="M1030.8 975.2 L1088.4 941.7 L1150.8 966.8 M1088.4 904.1 V952.2 M1069.2 983.5 L1088.4 941.7 L1112.4 983.5" fill="none" stroke="#333537" stroke-width="8.64" stroke-linecap="round" opacity="0.9"/><rect x="1035.6" y="824.7" width="103.7" height="83.6" fill="#cfcfcf" rx="19.2"/><rect x="1026" y="716" width="96" height="137.9" fill="#d9d9d9" rx="26.9"/><rect x="1038.5" y="730.6" width="71" height="102.4" fill="#b2b4b6" rx="19.2"/><ellipse cx="968" cy="1086.1" rx="90" ry="28.8" fill="#4a4c4e" opacity="0.45" filter="url(#s5)"/><path d="M896 1109.1 L968 1063 L1046 1097.6 M968 1011.2 V1077.4 M944 1120.6 L968 1063 L998 1120.6" fill="none" stroke="#333537" stroke-width="10.799999999999999" stroke-linecap="round" opacity="0.9"/><rect x="902" y="901.8" width="129.6" height="115.2" fill="#cfcfcf" rx="24"/><rect x="890" y="752" width="120" height="190.1" fill="#d9d9d9" rx="33.6"/><rect x="905.6" y="772.2" width="88.8" height="141.1" fill="#b2b4b6" rx="24"/><rect x="252" y="800" width="160" height="260" fill="#a9abad" rx="42"/><rect x="270" y="820" width="124" height="180" fill="#8d8f91" rx="32"/><rect x="300" y="960" width="170" height="110" fill="#b5b7b9" rx="36"/></g></g><g transform="translate(592 765) scale(0.18519)" mask="url(#R2)"><rect x="-20" y="-20" width="1580" height="1120" fill="#efede9"/><g filter="url(#s2)"><polygon points="0,0 1540,0 1540,330 1190,380 350,270 0,200" fill="#efede8"/><path d="M1040 60 L1500 330 M1400 40 L1530 300 M100 150 L350 200" fill="none" stroke="#dedad2" stroke-width="5"/><polygon points="0,180 350,262 350,700 0,800" fill="#f0eeea"/><rect x="92" y="205" width="58" height="565" fill="#c9c7c3"/><rect x="112" y="205" width="16" height="565" fill="#e4e2de"/><rect x="350" y="268" width="550" height="372" fill="#dcdfe3"/><rect x="350" y="268" width="155" height="422" fill="#c4c0ba"/><rect x="358" y="272" width="10" height="416" fill="#d8d4ce"/><rect x="382" y="272" width="10" height="416" fill="#d8d4ce"/><rect x="406" y="272" width="10" height="416" fill="#d8d4ce"/><rect x="430" y="272" width="10" height="416" fill="#d8d4ce"/><rect x="454" y="272" width="10" height="416" fill="#d8d4ce"/><rect x="478" y="272" width="10" height="416" fill="#d8d4ce"/><rect x="512" y="300" width="100" height="312" fill="#e4e9ef"/><rect x="628" y="312" width="114" height="296" fill="#dfe5ec"/><rect x="530" y="330" width="60" height="270" fill="#b3bac4" opacity="0.75"/><rect x="640" y="345" width="60" height="255" fill="#bcc3cc" opacity="0.7"/><rect x="612" y="300" width="16" height="312" fill="#f5f5f3"/><rect x="512" y="452" width="230" height="12" fill="#f3f3f1"/><rect x="742" y="335" width="93" height="270" fill="#c8c4be"/><rect x="748" y="338" width="9" height="265" fill="#dbd7d1"/><rect x="770" y="338" width="9" height="265" fill="#dbd7d1"/><rect x="792" y="338" width="9" height="265" fill="#dbd7d1"/><rect x="814" y="338" width="9" height="265" fill="#dbd7d1"/><rect x="835" y="350" width="62" height="240" fill="#e9e7e3"/><rect x="896" y="360" width="76" height="206" fill="#3f312a"/><rect x="972" y="345" width="568" height="255" fill="#f4f2ee"/><rect x="986" y="408" width="486" height="152" fill="#1e1c24"/><rect x="986" y="408" width="486" height="12" fill="#34323a"/><path d="M1205 300 V408" fill="none" stroke="#9a9a9a" stroke-width="5"/><rect x="1190" y="398" width="35" height="14" fill="#2a2a2c"/><polygon points="0,800 350,700 900,600 1540,600 1540,1080 0,1080" fill="url(#r2fl)"/><polygon points="0,860 520,1080 0,1080" fill="#e3e5ee" opacity="0.85"/><polygon points="300,238 572,118 1192,372 972,366" fill="#ebe8e3"/><polygon points="572,118 1192,372 1192,386 572,134" fill="#fbfbfa"/><path d="M300 238 L572 120 L1192 374" fill="none" stroke="#ffffff" stroke-width="14" stroke-linejoin="round"/><polygon points="300,232 972,356 1192,368 1192,392 972,382 300,256" fill="#fdfdfc"/><path d="M302 260 L972 386 L1192 396" fill="none" stroke="#cfcbc3" stroke-width="5"/><path d="M572 60 V118 M330 90 V228 M1196 280 V370" fill="none" stroke="#cfcfcf" stroke-width="3"/><rect x="215" y="640" width="147" height="72" fill="#ebe4d6" rx="14"/><rect x="460" y="618" width="102" height="58" fill="#ebe4d6" rx="14"/><rect x="630" y="604" width="72" height="46" fill="#ebe4d6" rx="14"/><rect x="745" y="594" width="67" height="40" fill="#ebe4d6" rx="14"/><rect x="840" y="584" width="57" height="34" fill="#ebe4d6" rx="14"/><rect x="920" y="574" width="47" height="29" fill="#ebe4d6" rx="14"/><rect x="1110" y="572" width="70" height="28" fill="#ebe4d6" rx="14"/><rect x="875" y="566" width="40" height="40" fill="#3a2e2a"/><polygon points="255,768 540,838 1022,690 1150,646 1152,660 1024,706 542,862 255,790" fill="#b9b1a2"/><polygon points="150,712 760,640 1020,618 1150,640 1022,690 862,722 540,838 255,768" fill="#eee8de"/><polygon points="150,712 760,640 1020,618 1060,625 800,670 300,760" fill="#f5f0e7" opacity="0.8"/><rect x="492" y="700" width="163" height="16" fill="#8e8e96" opacity="0.75"/><rect x="760" y="652" width="130" height="12" fill="#9a9aa2" opacity="0.65"/><rect x="925" y="622" width="85" height="8" fill="#a9a9b0" opacity="0.6"/><path d="M490 850 V935 L420 975 M490 935 L600 960" fill="none" stroke="#a9a9a9" stroke-width="10"/><path d="M1232 722.6 L1261 692.2 L1292.9 718 M1261 668 V710.6 M1252.3 729 L1261 692.2" fill="none" stroke="#5a5a5c" stroke-width="5" stroke-linecap="round"/><rect x="1232" y="580" width="58" height="92" fill="url(#r2ch)" rx="9.3"/><rect x="1236.6" y="585.5" width="36" height="54.3" fill="#e2d9c8" rx="7" opacity="0.8"/><path d="M1180 758.3 L1216 723.3 L1255.6 753 M1216 696 V744.5 M1205.2 765.7 L1216 723.3" fill="none" stroke="#5a5a5c" stroke-width="5" stroke-linecap="round"/><rect x="1180" y="594" width="72" height="106" fill="url(#r2ch)" rx="11.5"/><rect x="1185.8" y="600.4" width="44.6" height="62.5" fill="#e2d9c8" rx="8.6" opacity="0.8"/><path d="M1100 814.6 L1150 771 L1205 808 M1150 738 V797.4 M1135 823.8 L1150 771" fill="none" stroke="#5a5a5c" stroke-width="5" stroke-linecap="round"/><rect x="1100" y="610" width="100" height="132" fill="url(#r2ch)" rx="16"/><rect x="1108" y="617.9" width="62" height="77.9" fill="#e2d9c8" rx="12" opacity="0.8"/><path d="M1000 870.2 L1061 819.1 L1128.1 862.5 M1061 781 V850.1 M1042.7 881.1 L1061 819.1" fill="none" stroke="#5a5a5c" stroke-width="6.1000000000000005" stroke-linecap="round"/><rect x="1000" y="630" width="122" height="155" fill="url(#r2ch)" rx="19.5"/><rect x="1009.8" y="639.3" width="75.6" height="91.5" fill="#e2d9c8" rx="14.6" opacity="0.8"/><path d="M832 946.8 L927 885.7 L1031.5 937.5 M927 841 V922.7 M898.5 959.7 L927 885.7" fill="none" stroke="#5a5a5c" stroke-width="9.5" stroke-linecap="round"/><rect x="832" y="660" width="190" height="185" fill="url(#r2ch)" rx="30.4"/><rect x="847.2" y="671.1" width="117.8" height="109.1" fill="#e2d9c8" rx="22.8" opacity="0.8"/><path d="M610 990 L700 950 L790 985 M700 930 V960" fill="none" stroke="#77777a" stroke-width="9" stroke-linecap="round"/><path d="M580 842 Q600 812 690 806 L706 730 Q770 690 868 700 L866 800 L830 925 Q700 965 590 942 Z" fill="url(#r2ch)"/><path d="M706 730 Q770 690 868 700 L860 790 Q780 790 698 812 Z" fill="#ddd3c1"/><path d="M270 985 L340 950 L410 980 M340 925 V955" fill="none" stroke="#77777a" stroke-width="9" stroke-linecap="round"/><path d="M145 722 Q215 716 262 742 L292 820 Q380 830 452 846 L462 905 Q380 942 240 940 Q170 860 145 722 Z" fill="url(#r2ch)"/><path d="M262 742 L292 820 Q380 830 452 846 L446 872 Q340 866 272 842 Z" fill="#a99d88"/></g></g><g transform="translate(1012 758) scale(0.19164)" mask="url(#R3)"><rect x="-20" y="-20" width="1540" height="1120" fill="#d8d4cf"/><g filter="url(#s2)"><polygon points="0,0 1482,0 1482,60 925,380 550,380 0,60" fill="#d5d1cc"/><polygon points="425,20 1045,20 838,374 640,374" fill="#fdfdfd"/><polygon points="490,22 985,22 808,346 668,346" fill="#c9c4bd"/><polygon points="545,40 930,40 795,320 682,320" fill="#d9d4ce"/><polygon points="575,180 900,180 800,310 680,310" fill="#d0cbc4"/><path d="M575 180 H900" fill="none" stroke="#c2bdb6" stroke-width="4"/><circle cx="648" cy="140" r="6" fill="#f5f5f5"/><circle cx="822" cy="140" r="6" fill="#f5f5f5"/><circle cx="668" cy="232" r="6" fill="#f5f5f5"/><circle cx="802" cy="232" r="6" fill="#f5f5f5"/><rect x="732" y="232" width="10" height="68" fill="#6e6e70"/><ellipse cx="737" cy="310" rx="26" ry="14" fill="#202024"/><ellipse cx="737" cy="322" rx="18" ry="8" fill="#3a3a3e"/><polygon points="0,60 550,380 550,565 0,720" fill="url(#r3l)"/><polygon points="1482,60 925,380 925,565 1482,720" fill="url(#r3r)"/><path d="M0 72 L550 390" fill="none" stroke="#ffffff" stroke-width="20" opacity="0.95" filter="url(#s5)"/><path d="M1482 72 L925 390" fill="none" stroke="#ffffff" stroke-width="20" opacity="0.95" filter="url(#s5)"/><path d="M215 201.1 V659.4" fill="none" stroke="#cbc8c4" stroke-width="3.5"/><path d="M1267 201.1 V659.4" fill="none" stroke="#cbc8c4" stroke-width="3.5"/><path d="M330 268.1 V626.9" fill="none" stroke="#cbc8c4" stroke-width="3.5"/><path d="M1152 268.1 V626.9" fill="none" stroke="#cbc8c4" stroke-width="3.5"/><path d="M405 311.7 V605.8" fill="none" stroke="#cbc8c4" stroke-width="3.5"/><path d="M1077 311.7 V605.8" fill="none" stroke="#cbc8c4" stroke-width="3.5"/><path d="M455 340.8 V591.7" fill="none" stroke="#cbc8c4" stroke-width="3.5"/><path d="M1027 340.8 V591.7" fill="none" stroke="#cbc8c4" stroke-width="3.5"/><path d="M500 367 V579" fill="none" stroke="#cbc8c4" stroke-width="3.5"/><path d="M982 367 V579" fill="none" stroke="#cbc8c4" stroke-width="3.5"/><ellipse cx="211" cy="101" rx="64.2" ry="6.5" fill="#29292b" transform="rotate(37.4 211 101)"/><ellipse cx="233.5" cy="122.3" rx="32.1" ry="5.4" fill="#29292b" transform="rotate(29.4 233.5 122.3)"/><ellipse cx="323.5" cy="187.5" rx="61.3" ry="7.5" fill="#29292b" transform="rotate(37.7 323.5 187.5)"/><ellipse cx="345" cy="208.1" rx="30.7" ry="6.2" fill="#29292b" transform="rotate(29.7 345 208.1)"/><ellipse cx="431" cy="274" rx="60.4" ry="7" fill="#29292b" transform="rotate(39.0 431 274)"/><ellipse cx="452.2" cy="294.3" rx="30.2" ry="5.8" fill="#29292b" transform="rotate(31.0 452.2 294.3)"/><ellipse cx="517" cy="348" rx="43.1" ry="5.5" fill="#29292b" transform="rotate(44.1 517 348)"/><ellipse cx="532.1" cy="363.6" rx="21.6" ry="4.6" fill="#29292b" transform="rotate(36.1 532.1 363.6)"/><ellipse cx="135" cy="49" rx="17.5" ry="3.5" fill="#29292b" transform="rotate(31.0 135 49)"/><ellipse cx="141.1" cy="57.7" rx="8.7" ry="2.9" fill="#29292b" transform="rotate(23.0 141.1 57.7)"/><g transform="translate(1482 0) scale(-1 1)"><ellipse cx="211" cy="101" rx="64.2" ry="6.5" fill="#29292b" transform="rotate(37.4 211 101)"/><ellipse cx="233.5" cy="122.3" rx="32.1" ry="5.4" fill="#29292b" transform="rotate(29.4 233.5 122.3)"/><ellipse cx="323.5" cy="187.5" rx="61.3" ry="7.5" fill="#29292b" transform="rotate(37.7 323.5 187.5)"/><ellipse cx="345" cy="208.1" rx="30.7" ry="6.2" fill="#29292b" transform="rotate(29.7 345 208.1)"/><ellipse cx="431" cy="274" rx="60.4" ry="7" fill="#29292b" transform="rotate(39.0 431 274)"/><ellipse cx="452.2" cy="294.3" rx="30.2" ry="5.8" fill="#29292b" transform="rotate(31.0 452.2 294.3)"/><ellipse cx="517" cy="348" rx="43.1" ry="5.5" fill="#29292b" transform="rotate(44.1 517 348)"/><ellipse cx="532.1" cy="363.6" rx="21.6" ry="4.6" fill="#29292b" transform="rotate(36.1 532.1 363.6)"/><ellipse cx="135" cy="49" rx="17.5" ry="3.5" fill="#29292b" transform="rotate(31.0 135 49)"/><ellipse cx="141.1" cy="57.7" rx="8.7" ry="2.9" fill="#29292b" transform="rotate(23.0 141.1 57.7)"/></g><rect x="548" y="378" width="379" height="190" fill="#e0e3e7"/><rect x="623" y="400" width="75" height="156" fill="#8795aa"/><rect x="628" y="405" width="65" height="145" fill="#aeb4bc"/><rect x="628" y="410" width="65" height="4" fill="#8c939d"/><rect x="628" y="421" width="65" height="4" fill="#8c939d"/><rect x="628" y="432" width="65" height="4" fill="#8c939d"/><rect x="628" y="443" width="65" height="4" fill="#8c939d"/><rect x="628" y="454" width="65" height="4" fill="#8c939d"/><rect x="628" y="465" width="65" height="4" fill="#8c939d"/><rect x="628" y="476" width="65" height="4" fill="#8c939d"/><rect x="628" y="487" width="65" height="4" fill="#8c939d"/><rect x="628" y="498" width="65" height="4" fill="#8c939d"/><rect x="628" y="509" width="65" height="4" fill="#8c939d"/><rect x="628" y="520" width="65" height="4" fill="#8c939d"/><rect x="628" y="531" width="65" height="4" fill="#8c939d"/><rect x="628" y="542" width="65" height="4" fill="#8c939d"/><rect x="628" y="470" width="65" height="6" fill="#71809a"/><rect x="733" y="400" width="75" height="156" fill="#8795aa"/><rect x="738" y="405" width="65" height="145" fill="#aeb4bc"/><rect x="738" y="410" width="65" height="4" fill="#8c939d"/><rect x="738" y="421" width="65" height="4" fill="#8c939d"/><rect x="738" y="432" width="65" height="4" fill="#8c939d"/><rect x="738" y="443" width="65" height="4" fill="#8c939d"/><rect x="738" y="454" width="65" height="4" fill="#8c939d"/><rect x="738" y="465" width="65" height="4" fill="#8c939d"/><rect x="738" y="476" width="65" height="4" fill="#8c939d"/><rect x="738" y="487" width="65" height="4" fill="#8c939d"/><rect x="738" y="498" width="65" height="4" fill="#8c939d"/><rect x="738" y="509" width="65" height="4" fill="#8c939d"/><rect x="738" y="520" width="65" height="4" fill="#8c939d"/><rect x="738" y="531" width="65" height="4" fill="#8c939d"/><rect x="738" y="542" width="65" height="4" fill="#8c939d"/><rect x="738" y="470" width="65" height="6" fill="#71809a"/><rect x="845" y="400" width="73" height="156" fill="#8795aa"/><rect x="850" y="405" width="63" height="145" fill="#aeb4bc"/><rect x="850" y="410" width="63" height="4" fill="#8c939d"/><rect x="850" y="421" width="63" height="4" fill="#8c939d"/><rect x="850" y="432" width="63" height="4" fill="#8c939d"/><rect x="850" y="443" width="63" height="4" fill="#8c939d"/><rect x="850" y="454" width="63" height="4" fill="#8c939d"/><rect x="850" y="465" width="63" height="4" fill="#8c939d"/><rect x="850" y="476" width="63" height="4" fill="#8c939d"/><rect x="850" y="487" width="63" height="4" fill="#8c939d"/><rect x="850" y="498" width="63" height="4" fill="#8c939d"/><rect x="850" y="509" width="63" height="4" fill="#8c939d"/><rect x="850" y="520" width="63" height="4" fill="#8c939d"/><rect x="850" y="531" width="63" height="4" fill="#8c939d"/><rect x="850" y="542" width="63" height="4" fill="#8c939d"/><rect x="850" y="470" width="63" height="6" fill="#71809a"/><rect x="690" y="548" width="100" height="18" fill="#f2f2f2"/><ellipse cx="568" cy="485" rx="26" ry="36" fill="#25442a"/><ellipse cx="585" cy="505" rx="16" ry="20" fill="#2f5a34"/><rect x="560" y="520" width="16" height="40" fill="#2a2a2a"/><polygon points="136,440 118,471.2 82,471.2 64,440 82,408.8 118,408.8" fill="#9db0c1" opacity="0.9" stroke="#eef1f4" stroke-width="3"/><polygon points="192,455 176,482.7 144,482.7 128,455 144,427.3 176,427.3" fill="#9db0c1" opacity="0.9" stroke="#eef1f4" stroke-width="3"/><polygon points="230,400 215,426 185,426 170,400 185,374 215,374" fill="#9db0c1" opacity="0.9" stroke="#eef1f4" stroke-width="3"/><polygon points="268,470 250,501.2 214,501.2 196,470 214,438.8 250,438.8" fill="#9db0c1" opacity="0.9" stroke="#eef1f4" stroke-width="3"/><polygon points="216,520 203,542.5 177,542.5 164,520 177,497.5 203,497.5" fill="#9db0c1" opacity="0.9" stroke="#eef1f4" stroke-width="3"/><polygon points="304,420 287,449.4 253,449.4 236,420 253,390.6 287,390.6" fill="#9db0c1" opacity="0.9" stroke="#eef1f4" stroke-width="3"/><polygon points="304,345 293,364.1 271,364.1 260,345 271,325.9 293,325.9" fill="#9db0c1" opacity="0.9" stroke="#eef1f4" stroke-width="3"/><polygon points="354,480 336,511.2 300,511.2 282,480 300,448.8 336,448.8" fill="#9db0c1" opacity="0.9" stroke="#eef1f4" stroke-width="3"/><polygon points="392,445 377,471 347,471 332,445 347,419 377,419" fill="#9db0c1" opacity="0.9" stroke="#eef1f4" stroke-width="3"/><polygon points="413,500 399,524.2 371,524.2 357,500 371,475.8 399,475.8" fill="#9db0c1" opacity="0.9" stroke="#eef1f4" stroke-width="3"/><polygon points="450,470 439,489.1 417,489.1 406,470 417,450.9 439,450.9" fill="#9db0c1" opacity="0.9" stroke="#eef1f4" stroke-width="3"/><polygon points="292,535 281,554.1 259,554.1 248,535 259,515.9 281,515.9" fill="#9db0c1" opacity="0.9" stroke="#eef1f4" stroke-width="3"/><polygon points="355,395 345,412.3 325,412.3 315,395 325,377.7 345,377.7" fill="#9db0c1" opacity="0.9" stroke="#eef1f4" stroke-width="3"/><polygon points="426,430 418,443.9 402,443.9 394,430 402,416.1 418,416.1" fill="#9db0c1" opacity="0.9" stroke="#eef1f4" stroke-width="3"/><circle cx="252" cy="455" r="18" fill="#657b90"/><circle cx="330" cy="462" r="14" fill="#6b8196"/><circle cx="180" cy="470" r="12" fill="#71879c"/><polygon points="0,720 550,565 925,565 1482,720 1482,1080 0,1080" fill="url(#r3fl)"/><path d="M0 790 L420 700 M40 900 L470 770 M1482 790 L1060 700 M1440 900 L1010 770 M200 1000 L560 820 M1280 1000 L920 820" fill="none" stroke="#b19e84" stroke-width="9" opacity="0.45"/><g transform=""><polygon points="20,640 130,620 560,566 640,575 560,650 430,770 250,820 20,740" fill="#4e4033" opacity="0.6" filter="url(#s10)"/><polygon points="20,612 130,596 560,556 640,570 560,640 430,760 250,800 20,720" fill="#8f7352" opacity="0.7"/><polygon points="22,618 100,604 132,690 40,712" fill="#cdb08a"/><polygon points="128,598 208,586 240,668 150,690" fill="#c2a47c"/><polygon points="20,700 250,680 330,800 20,830" fill="#5a4a3c" opacity="0.35" filter="url(#s10)"/><path d="M40 712 L110 790 M132 690 L60 800 M150 690 L215 760 M240 668 L175 770" fill="none" stroke="#e9e9e9" stroke-width="6"/><polygon points="226,584 302,578 328,700 246,712" fill="#5a4a3a" opacity="0.55"/><polygon points="232,580 302,575 324,692.5 250,703" fill="#9c7d58"/><polygon points="232,580 253,578 273,700 250,703" fill="#cdb08a" opacity="0.8"/><polygon points="268,581 338.5,575 363,686.6 288,697.6" fill="#5a4a3a" opacity="0.55"/><polygon points="274,577 338.5,572 359,679.8 292,689.3" fill="#9c7d58"/><polygon points="274,577 293.4,575 313.4,686.6 292,689.3" fill="#cdb08a" opacity="0.8"/><polygon points="310,578 375,572 398,673.2 330,683.1" fill="#5a4a3a" opacity="0.55"/><polygon points="316,574 375,569 394,667 334,675.7" fill="#9c7d58"/><polygon points="316,574 333.7,572 353.7,673.2 334,675.7" fill="#cdb08a" opacity="0.8"/><polygon points="352,575 411.5,569 433,659.8 372,668.7" fill="#5a4a3a" opacity="0.55"/><polygon points="358,571 411.5,566 429,654.2 376,662" fill="#9c7d58"/><polygon points="358,571 374.1,569 394.1,659.8 376,662" fill="#cdb08a" opacity="0.8"/><polygon points="394,572 448,566 468,646.4 414,654.2" fill="#5a4a3a" opacity="0.55"/><polygon points="400,568 448,563 464,641.5 418,648.4" fill="#9c7d58"/><polygon points="400,568 414.4,566 434.4,646.4 418,648.4" fill="#cdb08a" opacity="0.8"/><polygon points="436,569 484.5,563 503,633 456,639.8" fill="#5a4a3a" opacity="0.55"/><polygon points="442,565 484.5,560 499,628.8 460,634.7" fill="#9c7d58"/><polygon points="442,565 454.8,563 474.8,633 460,634.7" fill="#cdb08a" opacity="0.8"/><polygon points="478,566 521,560 538,619.6 498,625.4" fill="#5a4a3a" opacity="0.55"/><polygon points="484,562 521,557 534,616 502,621" fill="#9c7d58"/><polygon points="484,562 495.1,560 515.1,619.6 502,621" fill="#cdb08a" opacity="0.8"/><polygon points="520,563 557.5,557 573,606.2 540,610.9" fill="#5a4a3a" opacity="0.55"/><polygon points="526,559 557.5,554 569,603.2 544,607.4" fill="#9c7d58"/><polygon points="526,559 535.5,557 555.5,606.2 544,607.4" fill="#cdb08a" opacity="0.8"/><polygon points="562,560 594,554 608,592.8 582,596.5" fill="#5a4a3a" opacity="0.55"/><polygon points="568,556 594,551 604,590.5 586,593.7" fill="#9c7d58"/><polygon points="568,556 575.8,554 595.8,592.8 586,593.7" fill="#cdb08a" opacity="0.8"/><ellipse cx="370" cy="900" rx="130" ry="40" fill="#6a5844" opacity="0.45" filter="url(#s10)"/><path d="M198 628 L285 606 L392 742 L438 800 L350 826 L292 800 Z" fill="url(#r3ch)"/><path d="M285 606 L316 603 L420 730 L392 742 Z" fill="#d3b58c"/><path d="M292 800 H430 M372 826 V880 L262 930 M372 880 L418 945 M372 880 L490 880" fill="none" stroke="#dcdcdc" stroke-width="9" stroke-linecap="round"/></g><g transform="translate(1482 0) scale(-1 1)"><polygon points="20,640 130,620 560,566 640,575 560,650 430,770 250,820 20,740" fill="#4e4033" opacity="0.6" filter="url(#s10)"/><polygon points="20,612 130,596 560,556 640,570 560,640 430,760 250,800 20,720" fill="#8f7352" opacity="0.7"/><polygon points="22,618 100,604 132,690 40,712" fill="#cdb08a"/><polygon points="128,598 208,586 240,668 150,690" fill="#c2a47c"/><polygon points="20,700 250,680 330,800 20,830" fill="#5a4a3c" opacity="0.35" filter="url(#s10)"/><path d="M40 712 L110 790 M132 690 L60 800 M150 690 L215 760 M240 668 L175 770" fill="none" stroke="#e9e9e9" stroke-width="6"/><polygon points="226,584 302,578 328,700 246,712" fill="#5a4a3a" opacity="0.55"/><polygon points="232,580 302,575 324,692.5 250,703" fill="#9c7d58"/><polygon points="232,580 253,578 273,700 250,703" fill="#cdb08a" opacity="0.8"/><polygon points="268,581 338.5,575 363,686.6 288,697.6" fill="#5a4a3a" opacity="0.55"/><polygon points="274,577 338.5,572 359,679.8 292,689.3" fill="#9c7d58"/><polygon points="274,577 293.4,575 313.4,686.6 292,689.3" fill="#cdb08a" opacity="0.8"/><polygon points="310,578 375,572 398,673.2 330,683.1" fill="#5a4a3a" opacity="0.55"/><polygon points="316,574 375,569 394,667 334,675.7" fill="#9c7d58"/><polygon points="316,574 333.7,572 353.7,673.2 334,675.7" fill="#cdb08a" opacity="0.8"/><polygon points="352,575 411.5,569 433,659.8 372,668.7" fill="#5a4a3a" opacity="0.55"/><polygon points="358,571 411.5,566 429,654.2 376,662" fill="#9c7d58"/><polygon points="358,571 374.1,569 394.1,659.8 376,662" fill="#cdb08a" opacity="0.8"/><polygon points="394,572 448,566 468,646.4 414,654.2" fill="#5a4a3a" opacity="0.55"/><polygon points="400,568 448,563 464,641.5 418,648.4" fill="#9c7d58"/><polygon points="400,568 414.4,566 434.4,646.4 418,648.4" fill="#cdb08a" opacity="0.8"/><polygon points="436,569 484.5,563 503,633 456,639.8" fill="#5a4a3a" opacity="0.55"/><polygon points="442,565 484.5,560 499,628.8 460,634.7" fill="#9c7d58"/><polygon points="442,565 454.8,563 474.8,633 460,634.7" fill="#cdb08a" opacity="0.8"/><polygon points="478,566 521,560 538,619.6 498,625.4" fill="#5a4a3a" opacity="0.55"/><polygon points="484,562 521,557 534,616 502,621" fill="#9c7d58"/><polygon points="484,562 495.1,560 515.1,619.6 502,621" fill="#cdb08a" opacity="0.8"/><polygon points="520,563 557.5,557 573,606.2 540,610.9" fill="#5a4a3a" opacity="0.55"/><polygon points="526,559 557.5,554 569,603.2 544,607.4" fill="#9c7d58"/><polygon points="526,559 535.5,557 555.5,606.2 544,607.4" fill="#cdb08a" opacity="0.8"/><polygon points="562,560 594,554 608,592.8 582,596.5" fill="#5a4a3a" opacity="0.55"/><polygon points="568,556 594,551 604,590.5 586,593.7" fill="#9c7d58"/><polygon points="568,556 575.8,554 595.8,592.8 586,593.7" fill="#cdb08a" opacity="0.8"/><ellipse cx="370" cy="900" rx="130" ry="40" fill="#6a5844" opacity="0.45" filter="url(#s10)"/><path d="M198 628 L285 606 L392 742 L438 800 L350 826 L292 800 Z" fill="url(#r3ch)"/><path d="M285 606 L316 603 L420 730 L392 742 Z" fill="#d3b58c"/><path d="M292 800 H430 M372 826 V880 L262 930 M372 880 L418 945 M372 880 L490 880" fill="none" stroke="#dcdcdc" stroke-width="9" stroke-linecap="round"/></g><polygon points="420,762 1046,762 1048,800 418,800" fill="#c9c5bf"/><polygon points="470,800 1000,800 1000,812 470,812" fill="#8a8680" opacity="0.6"/><polygon points="640,580 836,580 1046,762 420,762" fill="#ebe9e5"/><polygon points="704,582 768,582 772,622 700,622" fill="#47535f"/><path d="M736 622 V682 L560 760 M736 682 L920 760" fill="none" stroke="#d3d0cb" stroke-width="3.5"/><ellipse cx="738" cy="1000" rx="190" ry="40" fill="#7a6a58" opacity="0.4" filter="url(#s10)"/><path d="M556 708 Q738 692 920 708 L896 760 L872 960 L610 960 L584 760 Z" fill="url(#r3ch)"/><path d="M556 708 Q738 692 920 708 L912 726 Q738 708 564 726 Z" fill="#e6cda8"/><path d="M612 940 L600 1020 Q738 1040 876 1020 L864 940" fill="none" stroke="#f3f3f3" stroke-width="10"/><polygon points="628,948 850,948 806,1012 672,1012" fill="#e8e2d9"/></g></g><g transform="translate(1395 550) scale(0.22232)"><rect x="88" y="188" width="1172" height="694" fill="#3f3f41" rx="12"/><rect x="97.5" y="202" width="1153.5" height="669" fill="#131315" rx="5"/><rect x="105" y="210" width="1140" height="640" fill="#20232e"/><rect x="105" y="210" width="1140" height="75" fill="#15171d"/><rect x="105" y="214" width="225" height="68" fill="#1d2029" opacity="0.9"/><rect x="115" y="288" width="1115" height="550" fill="#272b39"/><rect x="115" y="290" width="1115" height="50" fill="#2b3040"/><path d="M128 232v40h9v-22l13 11v-9l-13-11zM174 232v40h-9v-22l-13 11v-9l13-11zM143 246l12 9-12 9z" fill="#ff8a2a"/><path d="M205 247 H258" stroke="#f4f4f4" stroke-width="20" stroke-dasharray="24 5" opacity="0.92" fill="none"/><circle cx="944" cy="247" r="8" fill="none" stroke="#bdbdbd" stroke-width="2.5" opacity="0.8"/><path d="M966 247 H1150" stroke="#b8b8b8" stroke-width="12" stroke-dasharray="9 4 14 4 6 5" opacity="0.5" fill="none"/><path d="M1165 247 H1215" stroke="#f0f0f0" stroke-width="17" stroke-dasharray="22 5" opacity="0.85" fill="none"/><path d="M140 302h26M140 313h26M140 324h26" stroke="#ff8a3a" stroke-width="5" opacity="0.85"/><rect x="140" y="299" width="10" height="28" fill="#f0f0f0" opacity="0.7"/><rect x="235" y="355" width="433" height="50" fill="#3a3e4d" rx="8"/><path d="M124 373a6 6 0 0 1 12 0q0 6-6 15q-6-9-6-15z" fill="#ff6a1a"/><path d="M142 380 H222" stroke="#f4f4f4" stroke-width="19" stroke-dasharray="17 3 17 3 8 2 8 2 8 2 8" opacity="0.9" fill="none"/><path d="M265 381 H300" stroke="#a4a6b2" stroke-width="15" stroke-dasharray="8 3 10 3 9" opacity="0.6" fill="none"/><circle cx="646" cy="379" r="13" fill="#ff6a1a"/><rect x="640" y="376.5" width="12" height="5" fill="#ffe3d0" rx="2"/><rect x="235" y="413.9" width="433" height="50" fill="#3a3e4d" rx="8"/><path d="M124 431.9a6 6 0 0 1 12 0q0 6-6 15q-6-9-6-15z" fill="#ff6a1a"/><path d="M142 438.9 H222" stroke="#f4f4f4" stroke-width="19" stroke-dasharray="17 3 17 3 8 2 8 2 8 2 8" opacity="0.9" fill="none"/><path d="M265 439.9 H300" stroke="#a4a6b2" stroke-width="15" stroke-dasharray="8 3 10 3 9" opacity="0.6" fill="none"/><circle cx="646" cy="437.9" r="13" fill="#ff6a1a"/><rect x="640" y="435.4" width="12" height="5" fill="#ffe3d0" rx="2"/><rect x="235" y="472.8" width="433" height="50" fill="#3a3e4d" rx="8"/><path d="M124 490.8a6 6 0 0 1 12 0q0 6-6 15q-6-9-6-15z" fill="#ff6a1a"/><path d="M142 497.8 H222" stroke="#f4f4f4" stroke-width="19" stroke-dasharray="17 3 17 3 8 2 8 2 8 2 8" opacity="0.9" fill="none"/><path d="M265 498.8 H300" stroke="#a4a6b2" stroke-width="15" stroke-dasharray="8 3 10 3 9" opacity="0.6" fill="none"/><circle cx="646" cy="496.8" r="13" fill="#ff6a1a"/><rect x="640" y="494.3" width="12" height="5" fill="#ffe3d0" rx="2"/><rect x="235" y="531.7" width="433" height="50" fill="#3a3e4d" rx="8"/><path d="M124 549.7a6 6 0 0 1 12 0q0 6-6 15q-6-9-6-15z" fill="#ff6a1a"/><path d="M142 556.7 H222" stroke="#f4f4f4" stroke-width="19" stroke-dasharray="17 3 17 3 8 2 8 2 8 2 8" opacity="0.9" fill="none"/><path d="M265 557.7 H300" stroke="#a4a6b2" stroke-width="15" stroke-dasharray="8 3 10 3 9" opacity="0.6" fill="none"/><circle cx="646" cy="555.7" r="13" fill="#ff6a1a"/><rect x="640" y="553.2" width="12" height="5" fill="#ffe3d0" rx="2"/><rect x="235" y="590.6" width="433" height="50" fill="#3a3e4d" rx="8"/><path d="M124 608.6a6 6 0 0 1 12 0q0 6-6 15q-6-9-6-15z" fill="#ff6a1a"/><path d="M142 615.6 H222" stroke="#f4f4f4" stroke-width="19" stroke-dasharray="17 3 17 3 8 2 8 2 8 2 8" opacity="0.9" fill="none"/><path d="M265 616.6 H300" stroke="#a4a6b2" stroke-width="15" stroke-dasharray="8 3 10 3 9" opacity="0.6" fill="none"/><circle cx="646" cy="614.6" r="13" fill="#ff6a1a"/><rect x="640" y="612.1" width="12" height="5" fill="#ffe3d0" rx="2"/><rect x="235" y="649.5" width="433" height="50" fill="#3a3e4d" rx="8"/><path d="M124 667.5a6 6 0 0 1 12 0q0 6-6 15q-6-9-6-15z" fill="#ff6a1a"/><path d="M142 674.5 H222" stroke="#f4f4f4" stroke-width="19" stroke-dasharray="17 3 17 3 8 2 8 2 8 2 8" opacity="0.9" fill="none"/><path d="M265 675.5 H300" stroke="#a4a6b2" stroke-width="15" stroke-dasharray="8 3 10 3 9" opacity="0.6" fill="none"/><circle cx="646" cy="673.5" r="13" fill="#ff6a1a"/><rect x="640" y="671" width="12" height="5" fill="#ffe3d0" rx="2"/><rect x="235" y="708.4" width="433" height="50" fill="#3a3e4d" rx="8"/><path d="M124 726.4a6 6 0 0 1 12 0q0 6-6 15q-6-9-6-15z" fill="#ff6a1a"/><path d="M142 733.4 H222" stroke="#f4f4f4" stroke-width="19" stroke-dasharray="17 3 17 3 8 2 8 2 8 2 8" opacity="0.9" fill="none"/><path d="M265 734.4 H300" stroke="#a4a6b2" stroke-width="15" stroke-dasharray="8 3 10 3 9" opacity="0.6" fill="none"/><circle cx="646" cy="732.4" r="13" fill="#ff6a1a"/><rect x="640" y="729.9" width="12" height="5" fill="#ffe3d0" rx="2"/><rect x="235" y="767.3" width="433" height="50" fill="#3a3e4d" rx="8"/><path d="M124 785.3a6 6 0 0 1 12 0q0 6-6 15q-6-9-6-15z" fill="#ff6a1a"/><path d="M142 792.3 H222" stroke="#f4f4f4" stroke-width="19" stroke-dasharray="17 3 17 3 8 2 8 2 8 2 8" opacity="0.9" fill="none"/><path d="M265 793.3 H300" stroke="#a4a6b2" stroke-width="15" stroke-dasharray="8 3 10 3 9" opacity="0.6" fill="none"/><circle cx="646" cy="791.3" r="13" fill="#ff6a1a"/><rect x="640" y="788.8" width="12" height="5" fill="#ffe3d0" rx="2"/><rect x="788" y="355" width="432" height="50" fill="#3a3e4d" rx="8"/><path d="M680 373a6 6 0 0 1 12 0q0 6-6 15q-6-9-6-15z" fill="#ff6a1a"/><path d="M697 380 H774" stroke="#f4f4f4" stroke-width="19" stroke-dasharray="17 3 17 3 8 2 8 2 8 2 8" opacity="0.9" fill="none"/><path d="M818 381 H856" stroke="#a4a6b2" stroke-width="14" stroke-dasharray="9 3 6 3 12" opacity="0.6" fill="none"/><circle cx="1200" cy="379" r="13" fill="#ff6a1a"/><rect x="1194" y="376.5" width="12" height="5" fill="#ffe3d0" rx="2"/><rect x="105" y="850" width="1140" height="8" fill="#0c0c0e"/><rect x="660" y="873" width="30" height="5" fill="#555"/></g><g transform="translate(1395 770) scale(0.22232)"><rect x="85" y="95" width="1165" height="690" fill="#323234" rx="10"/><rect x="96" y="108" width="1144" height="664" fill="#1d1d20" rx="4"/><g clip-path="url(#tv2c)"><rect x="108" y="125" width="1120" height="625" fill="url(#sky)"/><ellipse cx="240" cy="300" rx="330" ry="220" fill="#2a3fb0" opacity="0.35" filter="url(#tvb)"/><ellipse cx="900" cy="470" rx="420" ry="170" fill="#9a78c8" opacity="0.35" filter="url(#tvb)"/><rect x="108" y="640" width="1120" height="110" fill="#4a3a6a" opacity="0.55"/><rect x="108" y="615" width="52" height="133" fill="#2c3158"/><rect x="108" y="615" width="19.8" height="133" fill="#6670a6" opacity="0.35"/><rect x="160" y="560" width="95" height="188" fill="#343a66"/><rect x="160" y="560" width="36.1" height="188" fill="#6670a6" opacity="0.35"/><rect x="255" y="600" width="37" height="148" fill="#272b50"/><rect x="255" y="600" width="14.1" height="148" fill="#6670a6" opacity="0.35"/><rect x="296" y="598" width="34" height="150" fill="#3b4170"/><rect x="296" y="598" width="12.9" height="150" fill="#6670a6" opacity="0.35"/><rect x="330" y="625" width="82" height="123" fill="#2a2d52"/><rect x="330" y="625" width="31.2" height="123" fill="#6670a6" opacity="0.35"/><rect x="412" y="640" width="34" height="108" fill="#333862"/><rect x="412" y="640" width="12.9" height="108" fill="#6670a6" opacity="0.35"/><rect x="446" y="575" width="110" height="173" fill="#2c3158"/><rect x="446" y="575" width="41.8" height="173" fill="#6670a6" opacity="0.35"/><rect x="556" y="628" width="44" height="120" fill="#343a66"/><rect x="556" y="628" width="16.7" height="120" fill="#6670a6" opacity="0.35"/><rect x="598" y="525" width="45" height="223" fill="#272b50"/><rect x="598" y="525" width="17.1" height="223" fill="#6670a6" opacity="0.35"/><rect x="643" y="585" width="24" height="163" fill="#3b4170"/><rect x="643" y="585" width="9.1" height="163" fill="#6670a6" opacity="0.35"/><rect x="650" y="497" width="31" height="251" fill="#2a2d52"/><rect x="650" y="497" width="11.8" height="251" fill="#6670a6" opacity="0.35"/><rect x="684" y="475" width="38" height="273" fill="#333862"/><rect x="684" y="475" width="14.4" height="273" fill="#6670a6" opacity="0.35"/><rect x="722" y="598" width="34" height="150" fill="#2c3158"/><rect x="722" y="598" width="12.9" height="150" fill="#6670a6" opacity="0.35"/><rect x="758" y="527" width="47" height="221" fill="#343a66"/><rect x="758" y="527" width="17.9" height="221" fill="#6670a6" opacity="0.35"/><rect x="806" y="608" width="46" height="140" fill="#272b50"/><rect x="806" y="608" width="17.5" height="140" fill="#6670a6" opacity="0.35"/><rect x="858" y="585" width="67" height="163" fill="#3b4170"/><rect x="858" y="585" width="25.5" height="163" fill="#6670a6" opacity="0.35"/><rect x="926" y="618" width="20" height="130" fill="#2a2d52"/><rect x="926" y="618" width="7.6" height="130" fill="#6670a6" opacity="0.35"/><rect x="946" y="603" width="30" height="145" fill="#333862"/><rect x="946" y="603" width="11.4" height="145" fill="#6670a6" opacity="0.35"/><rect x="976" y="638" width="40" height="110" fill="#2c3158"/><rect x="976" y="638" width="15.2" height="110" fill="#6670a6" opacity="0.35"/><rect x="1016" y="575" width="46" height="173" fill="#343a66"/><rect x="1016" y="575" width="17.5" height="173" fill="#6670a6" opacity="0.35"/><rect x="1062" y="610" width="24" height="138" fill="#272b50"/><rect x="1062" y="610" width="9.1" height="138" fill="#6670a6" opacity="0.35"/><rect x="1088" y="598" width="72" height="150" fill="#3b4170"/><rect x="1088" y="598" width="27.4" height="150" fill="#6670a6" opacity="0.35"/><rect x="1160" y="625" width="68" height="123" fill="#2a2d52"/><rect x="1160" y="625" width="25.8" height="123" fill="#6670a6" opacity="0.35"/><rect x="124.2" y="639.9" width="4" height="9" fill="#ffd27a" opacity="0.55"/><rect x="126.1" y="629.5" width="4" height="4" fill="#ff9a4a" opacity="0.55"/><rect x="129.1" y="630.8" width="7" height="6" fill="#ffd27a" opacity="0.55"/><rect x="146.4" y="636.9" width="7" height="9" fill="#ffb45a" opacity="0.9"/><rect x="151.7" y="687.6" width="4" height="4" fill="#c9d2ff" opacity="0.55"/><rect x="134.5" y="637.9" width="4" height="9" fill="#c9d2ff" opacity="0.55"/><rect x="135.1" y="685.7" width="4" height="9" fill="#ffb45a" opacity="0.9"/><rect x="138.1" y="664.7" width="7" height="4" fill="#ff9a4a" opacity="0.9"/><rect x="112.6" y="646.1" width="5" height="6" fill="#ff9a4a" opacity="0.7"/><rect x="135.8" y="673.8" width="4" height="4" fill="#ffe6a8" opacity="0.9"/><rect x="144.3" y="632.2" width="7" height="6" fill="#ffe6a8" opacity="0.7"/><rect x="142.1" y="655.2" width="4" height="9" fill="#ffd27a" opacity="0.7"/><rect x="117.3" y="661.3" width="5" height="4" fill="#c9d2ff" opacity="0.9"/><rect x="113.4" y="685.5" width="5" height="9" fill="#ffe6a8" opacity="0.7"/><rect x="136.2" y="687.9" width="4" height="4" fill="#c9d2ff" opacity="0.7"/><rect x="130.9" y="697.4" width="7" height="9" fill="#ffd27a" opacity="0.7"/><rect x="218.3" y="733.8" width="5" height="9" fill="#c9d2ff" opacity="0.7"/><rect x="239.2" y="625.9" width="5" height="4" fill="#c9d2ff" opacity="0.9"/><rect x="172.2" y="577.8" width="4" height="9" fill="#ffe6a8" opacity="0.55"/><rect x="196.6" y="721.1" width="4" height="4" fill="#c9d2ff" opacity="0.7"/><rect x="196.9" y="614.4" width="5" height="9" fill="#ffb45a" opacity="0.7"/><rect x="223.5" y="732.7" width="4" height="4" fill="#c9d2ff" opacity="0.55"/><rect x="177.3" y="606.7" width="4" height="6" fill="#ffb45a" opacity="0.9"/><rect x="177.9" y="615.1" width="5" height="9" fill="#ffb45a" opacity="0.7"/><rect x="215.1" y="621.2" width="7" height="9" fill="#ffb45a" opacity="0.9"/><rect x="219" y="691.5" width="7" height="9" fill="#c9d2ff" opacity="0.7"/><rect x="196.6" y="633.8" width="7" height="6" fill="#c9d2ff" opacity="0.55"/><rect x="178.6" y="732.4" width="4" height="4" fill="#c9d2ff" opacity="0.7"/><rect x="214.3" y="585.1" width="4" height="9" fill="#ff9a4a" opacity="0.55"/><rect x="244.6" y="670.5" width="4" height="9" fill="#ffd27a" opacity="0.7"/><rect x="174.9" y="610.1" width="7" height="6" fill="#ffe6a8" opacity="0.7"/><rect x="172.7" y="709.8" width="5" height="6" fill="#c9d2ff" opacity="0.7"/><rect x="169.5" y="585.1" width="7" height="6" fill="#ffe6a8" opacity="0.7"/><rect x="234.1" y="595" width="4" height="9" fill="#ffd27a" opacity="0.7"/><rect x="174.8" y="658.7" width="7" height="6" fill="#ffd27a" opacity="0.9"/><rect x="237.1" y="684.3" width="7" height="6" fill="#ffe6a8" opacity="0.55"/><rect x="192.9" y="605.2" width="7" height="6" fill="#ff9a4a" opacity="0.9"/><rect x="181.4" y="703.5" width="4" height="6" fill="#ffb45a" opacity="0.9"/><rect x="231.9" y="601.4" width="5" height="9" fill="#c9d2ff" opacity="0.55"/><rect x="248.1" y="699.9" width="5" height="4" fill="#c9d2ff" opacity="0.9"/><rect x="214.6" y="625.5" width="5" height="4" fill="#ffe6a8" opacity="0.55"/><rect x="170.9" y="646.5" width="4" height="6" fill="#ffe6a8" opacity="0.9"/><rect x="247.7" y="669.9" width="5" height="9" fill="#ffd27a" opacity="0.7"/><rect x="231.6" y="582.2" width="5" height="9" fill="#ffd27a" opacity="0.55"/><rect x="203.6" y="597.8" width="4" height="9" fill="#ffe6a8" opacity="0.7"/><rect x="202.3" y="692.1" width="7" height="4" fill="#ffd27a" opacity="0.55"/><rect x="248.4" y="572.6" width="5" height="9" fill="#ff9a4a" opacity="0.55"/><rect x="215.2" y="667.5" width="7" height="6" fill="#c9d2ff" opacity="0.55"/><rect x="209.7" y="589.9" width="7" height="9" fill="#ffd27a" opacity="0.55"/><rect x="207.8" y="723.9" width="4" height="4" fill="#c9d2ff" opacity="0.55"/><rect x="183.9" y="616.9" width="7" height="6" fill="#ffb45a" opacity="0.7"/><rect x="209.4" y="707.3" width="7" height="6" fill="#ffd27a" opacity="0.7"/><rect x="219.6" y="704.1" width="5" height="9" fill="#ff9a4a" opacity="0.55"/><rect x="208.3" y="655.4" width="5" height="4" fill="#ffd27a" opacity="0.9"/><rect x="162.3" y="701.5" width="4" height="6" fill="#ffb45a" opacity="0.9"/><rect x="225.1" y="660.9" width="7" height="9" fill="#ffe6a8" opacity="0.9"/><rect x="210.3" y="699" width="7" height="4" fill="#ffd27a" opacity="0.55"/><rect x="178.6" y="575" width="7" height="6" fill="#ffd27a" opacity="0.9"/><rect x="257.8" y="721.5" width="5" height="6" fill="#ffd27a" opacity="0.9"/><rect x="285.2" y="685" width="7" height="6" fill="#ffb45a" opacity="0.7"/><rect x="271.7" y="710.5" width="4" height="9" fill="#ff9a4a" opacity="0.9"/><rect x="282.4" y="727.7" width="7" height="4" fill="#ffe6a8" opacity="0.7"/><rect x="261" y="623.4" width="5" height="4" fill="#c9d2ff" opacity="0.9"/><rect x="264" y="617.3" width="4" height="4" fill="#ffe6a8" opacity="0.9"/><rect x="275.7" y="654.5" width="4" height="6" fill="#ffe6a8" opacity="0.55"/><rect x="278.7" y="620" width="4" height="9" fill="#c9d2ff" opacity="0.55"/><rect x="261.7" y="662.8" width="5" height="6" fill="#ff9a4a" opacity="0.7"/><rect x="262.7" y="648.5" width="4" height="6" fill="#ffe6a8" opacity="0.9"/><rect x="270.3" y="697.3" width="5" height="9" fill="#c9d2ff" opacity="0.9"/><rect x="265.6" y="730" width="4" height="4" fill="#ffd27a" opacity="0.55"/><rect x="264.7" y="613" width="5" height="4" fill="#ffb45a" opacity="0.7"/><rect x="320.1" y="693.2" width="5" height="4" fill="#ffe6a8" opacity="0.9"/><rect x="321.9" y="679.6" width="4" height="6" fill="#ffe6a8" opacity="0.55"/><rect x="318.8" y="629.7" width="5" height="4" fill="#ffd27a" opacity="0.9"/><rect x="300.3" y="639.6" width="4" height="4" fill="#ff9a4a" opacity="0.7"/><rect x="320.4" y="664.5" width="7" height="6" fill="#ffe6a8" opacity="0.7"/><rect x="314.2" y="611.6" width="4" height="4" fill="#ffb45a" opacity="0.7"/><rect x="299.3" y="632" width="7" height="6" fill="#ffe6a8" opacity="0.9"/><rect x="317.7" y="643.4" width="7" height="4" fill="#ff9a4a" opacity="0.7"/><rect x="307" y="608.3" width="4" height="4" fill="#ffe6a8" opacity="0.55"/><rect x="317.1" y="677.1" width="7" height="6" fill="#ffb45a" opacity="0.55"/><rect x="322.3" y="619.7" width="7" height="6" fill="#c9d2ff" opacity="0.9"/><rect x="319.7" y="656.7" width="5" height="9" fill="#ff9a4a" opacity="0.55"/><rect x="404.7" y="668" width="5" height="6" fill="#ffb45a" opacity="0.55"/><rect x="393.9" y="634.5" width="5" height="4" fill="#ffe6a8" opacity="0.55"/><rect x="338.3" y="718.8" width="7" height="6" fill="#ff9a4a" opacity="0.9"/><rect x="349.9" y="662.9" width="4" height="4" fill="#c9d2ff" opacity="0.7"/><rect x="365" y="659.9" width="7" height="6" fill="#ffe6a8" opacity="0.55"/><rect x="334.5" y="723" width="5" height="4" fill="#ffb45a" opacity="0.55"/><rect x="356.8" y="641.6" width="7" height="9" fill="#ffe6a8" opacity="0.55"/><rect x="350.4" y="712.2" width="5" height="4" fill="#ffd27a" opacity="0.55"/><rect x="361.6" y="637.3" width="5" height="6" fill="#ffd27a" opacity="0.9"/><rect x="349.2" y="692.7" width="4" height="9" fill="#ff9a4a" opacity="0.9"/><rect x="390" y="693.8" width="7" height="6" fill="#ffe6a8" opacity="0.55"/><rect x="353" y="696.1" width="4" height="9" fill="#ffb45a" opacity="0.9"/><rect x="378.4" y="707.9" width="4" height="9" fill="#ff9a4a" opacity="0.9"/><rect x="374.1" y="715.9" width="7" height="9" fill="#ffd27a" opacity="0.9"/><rect x="382.5" y="703.7" width="4" height="4" fill="#ffb45a" opacity="0.55"/><rect x="341.8" y="669.8" width="5" height="6" fill="#ffd27a" opacity="0.9"/><rect x="335.8" y="634.9" width="7" height="4" fill="#ff9a4a" opacity="0.7"/><rect x="351.5" y="679.6" width="7" height="9" fill="#ffd27a" opacity="0.9"/><rect x="338.8" y="686.7" width="5" height="4" fill="#c9d2ff" opacity="0.7"/><rect x="349.4" y="710.2" width="7" height="9" fill="#ffb45a" opacity="0.7"/><rect x="368.6" y="672" width="7" height="6" fill="#c9d2ff" opacity="0.55"/><rect x="377.7" y="698.6" width="7" height="4" fill="#ffd27a" opacity="0.7"/><rect x="350.8" y="708.8" width="7" height="9" fill="#ffe6a8" opacity="0.55"/><rect x="332.9" y="639.2" width="7" height="4" fill="#ffe6a8" opacity="0.9"/><rect x="419.7" y="690.6" width="5" height="6" fill="#ff9a4a" opacity="0.7"/><rect x="426.1" y="658.3" width="4" height="6" fill="#ff9a4a" opacity="0.55"/><rect x="438.3" y="649.5" width="4" height="9" fill="#c9d2ff" opacity="0.7"/><rect x="439.8" y="681.7" width="4" height="9" fill="#ffb45a" opacity="0.55"/><rect x="417.7" y="693.6" width="4" height="9" fill="#ffe6a8" opacity="0.9"/><rect x="427.2" y="725.2" width="4" height="6" fill="#ffe6a8" opacity="0.7"/><rect x="424.2" y="661.8" width="7" height="6" fill="#c9d2ff" opacity="0.7"/><rect x="421.9" y="660.2" width="5" height="6" fill="#ffe6a8" opacity="0.55"/><rect x="533.7" y="583.3" width="5" height="4" fill="#ffe6a8" opacity="0.55"/><rect x="520.7" y="720" width="5" height="6" fill="#ffe6a8" opacity="0.55"/><rect x="488.1" y="734.8" width="4" height="6" fill="#ff9a4a" opacity="0.7"/><rect x="525.1" y="712.8" width="4" height="4" fill="#ffe6a8" opacity="0.9"/><rect x="477.1" y="725.2" width="5" height="6" fill="#ffb45a" opacity="0.9"/><rect x="480.2" y="700.5" width="4" height="9" fill="#c9d2ff" opacity="0.7"/><rect x="541.2" y="726" width="4" height="9" fill="#ff9a4a" opacity="0.55"/><rect x="453" y="694.3" width="7" height="4" fill="#c9d2ff" opacity="0.9"/><rect x="536.7" y="656.8" width="4" height="4" fill="#ff9a4a" opacity="0.7"/><rect x="490.3" y="625.8" width="7" height="9" fill="#ffe6a8" opacity="0.9"/><rect x="474.5" y="682.7" width="5" height="9" fill="#ffe6a8" opacity="0.9"/><rect x="488.2" y="608.4" width="4" height="4" fill="#ffb45a" opacity="0.9"/><rect x="540.4" y="658.6" width="5" height="6" fill="#ffb45a" opacity="0.7"/><rect x="491.6" y="666.3" width="4" height="4" fill="#ffb45a" opacity="0.7"/><rect x="504.7" y="631.5" width="5" height="9" fill="#ffe6a8" opacity="0.55"/><rect x="538.5" y="696.9" width="5" height="6" fill="#c9d2ff" opacity="0.9"/><rect x="501.5" y="640.3" width="4" height="6" fill="#ffe6a8" opacity="0.7"/><rect x="506.6" y="637.7" width="7" height="9" fill="#ff9a4a" opacity="0.55"/><rect x="457.4" y="719.3" width="5" height="9" fill="#c9d2ff" opacity="0.7"/><rect x="492" y="630.4" width="4" height="4" fill="#ffd27a" opacity="0.7"/><rect x="520.4" y="719.1" width="7" height="6" fill="#c9d2ff" opacity="0.55"/><rect x="455.5" y="724.4" width="5" height="6" fill="#ff9a4a" opacity="0.55"/><rect x="527.9" y="617" width="7" height="9" fill="#ffb45a" opacity="0.55"/><rect x="544" y="692.7" width="4" height="9" fill="#c9d2ff" opacity="0.55"/><rect x="448.1" y="602.1" width="4" height="9" fill="#ff9a4a" opacity="0.9"/><rect x="479" y="602.5" width="7" height="9" fill="#ffe6a8" opacity="0.7"/><rect x="519.3" y="600" width="5" height="9" fill="#ffd27a" opacity="0.9"/><rect x="467.6" y="622.7" width="4" height="4" fill="#ff9a4a" opacity="0.9"/><rect x="478.8" y="653" width="7" height="4" fill="#ffe6a8" opacity="0.7"/><rect x="501.7" y="666.1" width="5" height="9" fill="#ffd27a" opacity="0.9"/><rect x="479.4" y="586.3" width="7" height="9" fill="#c9d2ff" opacity="0.7"/><rect x="456.3" y="617.6" width="5" height="4" fill="#c9d2ff" opacity="0.7"/><rect x="451.5" y="634.4" width="5" height="9" fill="#c9d2ff" opacity="0.7"/><rect x="468.2" y="704.2" width="4" height="4" fill="#ff9a4a" opacity="0.7"/><rect x="546.9" y="630.4" width="4" height="6" fill="#ffb45a" opacity="0.55"/><rect x="475" y="718.2" width="7" height="6" fill="#ffd27a" opacity="0.9"/><rect x="467.1" y="616.9" width="7" height="4" fill="#c9d2ff" opacity="0.9"/><rect x="462.9" y="642.8" width="4" height="9" fill="#ffb45a" opacity="0.55"/><rect x="490.4" y="690.9" width="5" height="6" fill="#ffb45a" opacity="0.9"/><rect x="538.1" y="694.4" width="4" height="6" fill="#ffd27a" opacity="0.55"/><rect x="466.9" y="725.3" width="4" height="6" fill="#c9d2ff" opacity="0.9"/><rect x="522" y="710.5" width="5" height="4" fill="#ffe6a8" opacity="0.55"/><rect x="448.3" y="625.5" width="5" height="4" fill="#ffe6a8" opacity="0.9"/><rect x="546.4" y="614.5" width="5" height="6" fill="#ffe6a8" opacity="0.55"/><rect x="453" y="655" width="7" height="6" fill="#ffe6a8" opacity="0.55"/><rect x="569.6" y="709" width="4" height="9" fill="#c9d2ff" opacity="0.7"/><rect x="566.9" y="697.9" width="4" height="6" fill="#c9d2ff" opacity="0.55"/><rect x="574.7" y="715.5" width="5" height="4" fill="#ffd27a" opacity="0.9"/><rect x="560.3" y="696" width="5" height="6" fill="#ffe6a8" opacity="0.9"/><rect x="559.6" y="709.9" width="5" height="6" fill="#ffe6a8" opacity="0.55"/><rect x="584" y="695" width="4" height="4" fill="#ffd27a" opacity="0.55"/><rect x="575.1" y="730.7" width="5" height="6" fill="#c9d2ff" opacity="0.7"/><rect x="562.8" y="685.2" width="7" height="6" fill="#ffd27a" opacity="0.9"/><rect x="585.8" y="696.1" width="5" height="6" fill="#ffe6a8" opacity="0.7"/><rect x="586.2" y="695" width="4" height="6" fill="#ff9a4a" opacity="0.55"/><rect x="566.9" y="642.4" width="5" height="9" fill="#ffd27a" opacity="0.9"/><rect x="569.7" y="733" width="4" height="6" fill="#ffd27a" opacity="0.9"/><rect x="603.1" y="552.5" width="7" height="6" fill="#c9d2ff" opacity="0.55"/><rect x="608.7" y="617.2" width="7" height="4" fill="#ff9a4a" opacity="0.9"/><rect x="619.9" y="689.3" width="5" height="6" fill="#ffd27a" opacity="0.7"/><rect x="621" y="608.3" width="4" height="6" fill="#ffe6a8" opacity="0.55"/><rect x="606.9" y="580.6" width="7" height="4" fill="#ffe6a8" opacity="0.7"/><rect x="602.4" y="583.8" width="7" height="9" fill="#ffb45a" opacity="0.55"/><rect x="624" y="553.3" width="4" height="4" fill="#c9d2ff" opacity="0.55"/><rect x="617.6" y="698.5" width="5" height="4" fill="#c9d2ff" opacity="0.7"/><rect x="608.6" y="543.2" width="7" height="4" fill="#ff9a4a" opacity="0.55"/><rect x="613.8" y="708" width="7" height="6" fill="#c9d2ff" opacity="0.9"/><rect x="635" y="554.4" width="7" height="9" fill="#ff9a4a" opacity="0.7"/><rect x="608.1" y="607.5" width="4" height="4" fill="#ffb45a" opacity="0.7"/><rect x="601.4" y="680.9" width="4" height="6" fill="#ffb45a" opacity="0.7"/><rect x="625.1" y="570.4" width="4" height="4" fill="#ffe6a8" opacity="0.55"/><rect x="629.4" y="643.7" width="5" height="4" fill="#ffd27a" opacity="0.7"/><rect x="624.6" y="564.2" width="4" height="9" fill="#ff9a4a" opacity="0.55"/><rect x="614.7" y="587.8" width="7" height="6" fill="#ffe6a8" opacity="0.7"/><rect x="635.3" y="596.1" width="5" height="6" fill="#ff9a4a" opacity="0.7"/><rect x="600.7" y="687.9" width="7" height="4" fill="#ffe6a8" opacity="0.7"/><rect x="626.9" y="574.1" width="5" height="4" fill="#ffd27a" opacity="0.7"/><rect x="604.2" y="551.3" width="5" height="6" fill="#ff9a4a" opacity="0.55"/><rect x="604.8" y="543.4" width="7" height="6" fill="#ffb45a" opacity="0.55"/><rect x="621.2" y="720.3" width="4" height="4" fill="#ff9a4a" opacity="0.7"/><rect x="649.5" y="667" width="4" height="6" fill="#ffd27a" opacity="0.7"/><rect x="657.1" y="705.5" width="5" height="4" fill="#ffb45a" opacity="0.55"/><rect x="660.6" y="661.5" width="7" height="9" fill="#ffd27a" opacity="0.7"/><rect x="646.4" y="694.1" width="7" height="4" fill="#ffb45a" opacity="0.9"/><rect x="651.5" y="713.2" width="4" height="9" fill="#c9d2ff" opacity="0.55"/><rect x="645.7" y="726.3" width="5" height="6" fill="#ffb45a" opacity="0.55"/><rect x="647.4" y="730.8" width="4" height="9" fill="#ffb45a" opacity="0.9"/><rect x="645.6" y="712" width="5" height="9" fill="#ffd27a" opacity="0.7"/><rect x="653.8" y="682" width="7" height="6" fill="#ffe6a8" opacity="0.7"/><rect x="665.4" y="602.9" width="5" height="9" fill="#ffe6a8" opacity="0.7"/><rect x="656.1" y="505.8" width="5" height="4" fill="#c9d2ff" opacity="0.7"/><rect x="669.6" y="684.4" width="4" height="6" fill="#c9d2ff" opacity="0.7"/><rect x="654.5" y="534.5" width="5" height="4" fill="#c9d2ff" opacity="0.7"/><rect x="663.6" y="656.1" width="7" height="4" fill="#ffd27a" opacity="0.55"/><rect x="673.2" y="577.2" width="4" height="4" fill="#ff9a4a" opacity="0.9"/><rect x="672.6" y="655.1" width="4" height="4" fill="#ffb45a" opacity="0.9"/><rect x="668.8" y="692.4" width="4" height="6" fill="#ffb45a" opacity="0.7"/><rect x="674" y="715.7" width="7" height="9" fill="#ffb45a" opacity="0.55"/><rect x="653.5" y="585.7" width="4" height="6" fill="#ffe6a8" opacity="0.9"/><rect x="658.3" y="692.6" width="5" height="9" fill="#ffb45a" opacity="0.7"/><rect x="656.8" y="565.5" width="4" height="6" fill="#ff9a4a" opacity="0.7"/><rect x="652.8" y="546.9" width="7" height="6" fill="#ffb45a" opacity="0.9"/><rect x="659.5" y="591.7" width="4" height="9" fill="#ffe6a8" opacity="0.55"/><rect x="666.6" y="587.7" width="7" height="9" fill="#c9d2ff" opacity="0.9"/><rect x="667.8" y="711.1" width="7" height="9" fill="#ffe6a8" opacity="0.7"/><rect x="669" y="590.4" width="5" height="9" fill="#c9d2ff" opacity="0.55"/><rect x="660.3" y="680.9" width="4" height="4" fill="#c9d2ff" opacity="0.9"/><rect x="708.3" y="495.2" width="5" height="6" fill="#ff9a4a" opacity="0.9"/><rect x="715" y="702.3" width="7" height="4" fill="#ffe6a8" opacity="0.9"/><rect x="687" y="520.6" width="7" height="6" fill="#ff9a4a" opacity="0.7"/><rect x="701.4" y="708.7" width="5" height="4" fill="#ffb45a" opacity="0.9"/><rect x="705.6" y="488.6" width="7" height="6" fill="#ffd27a" opacity="0.7"/><rect x="689.2" y="573" width="5" height="9" fill="#ffb45a" opacity="0.7"/><rect x="703.7" y="534.5" width="5" height="4" fill="#ff9a4a" opacity="0.55"/><rect x="686.4" y="685" width="5" height="4" fill="#ffb45a" opacity="0.55"/><rect x="705.1" y="702.6" width="5" height="6" fill="#ffe6a8" opacity="0.55"/><rect x="687.7" y="689.9" width="7" height="9" fill="#ffe6a8" opacity="0.9"/><rect x="699.3" y="719.2" width="4" height="4" fill="#c9d2ff" opacity="0.55"/><rect x="687.3" y="616.9" width="4" height="4" fill="#c9d2ff" opacity="0.55"/><rect x="687.8" y="679.3" width="7" height="9" fill="#ffd27a" opacity="0.9"/><rect x="714.2" y="518.9" width="7" height="9" fill="#ffb45a" opacity="0.9"/><rect x="701.2" y="644.7" width="4" height="9" fill="#ff9a4a" opacity="0.7"/><rect x="687.9" y="640.7" width="7" height="9" fill="#c9d2ff" opacity="0.55"/><rect x="697.3" y="593" width="4" height="9" fill="#c9d2ff" opacity="0.9"/><rect x="699.6" y="539.9" width="5" height="4" fill="#ffd27a" opacity="0.9"/><rect x="687.2" y="567.6" width="7" height="4" fill="#ffe6a8" opacity="0.7"/><rect x="705.1" y="654.2" width="5" height="6" fill="#ff9a4a" opacity="0.9"/><rect x="713.9" y="708.3" width="7" height="4" fill="#ffd27a" opacity="0.55"/><rect x="693.8" y="542.5" width="4" height="9" fill="#ffb45a" opacity="0.7"/><rect x="691.8" y="581" width="4" height="6" fill="#ff9a4a" opacity="0.9"/><rect x="713.7" y="730.4" width="5" height="6" fill="#ff9a4a" opacity="0.9"/><rect x="742.1" y="716.6" width="7" height="4" fill="#c9d2ff" opacity="0.9"/><rect x="747" y="707.8" width="7" height="9" fill="#c9d2ff" opacity="0.55"/><rect x="738.7" y="628.1" width="4" height="4" fill="#ffd27a" opacity="0.55"/><rect x="740.2" y="626.9" width="7" height="4" fill="#ffb45a" opacity="0.55"/><rect x="725.1" y="695.3" width="7" height="4" fill="#ffd27a" opacity="0.9"/><rect x="725.2" y="716.5" width="4" height="9" fill="#ffe6a8" opacity="0.9"/><rect x="725.7" y="717.9" width="4" height="4" fill="#c9d2ff" opacity="0.55"/><rect x="729.3" y="610.4" width="7" height="9" fill="#ffd27a" opacity="0.7"/><rect x="736.4" y="623.1" width="5" height="6" fill="#ffb45a" opacity="0.7"/><rect x="735" y="608.7" width="5" height="4" fill="#ffe6a8" opacity="0.9"/><rect x="743.8" y="723.4" width="7" height="6" fill="#ff9a4a" opacity="0.7"/><rect x="740.1" y="610" width="4" height="6" fill="#c9d2ff" opacity="0.9"/><rect x="790.1" y="604.4" width="7" height="9" fill="#ffd27a" opacity="0.55"/><rect x="787.9" y="700.6" width="5" height="4" fill="#ff9a4a" opacity="0.7"/><rect x="760.1" y="575.4" width="4" height="6" fill="#ffd27a" opacity="0.7"/><rect x="763.7" y="674" width="5" height="9" fill="#ffb45a" opacity="0.7"/><rect x="797.3" y="638" width="4" height="6" fill="#ff9a4a" opacity="0.55"/><rect x="796.6" y="581.3" width="4" height="9" fill="#ffb45a" opacity="0.55"/><rect x="779.1" y="733.2" width="4" height="9" fill="#ff9a4a" opacity="0.7"/><rect x="773.9" y="615.3" width="7" height="4" fill="#c9d2ff" opacity="0.7"/><rect x="794.6" y="540" width="5" height="6" fill="#ffb45a" opacity="0.7"/><rect x="795.1" y="635.2" width="7" height="4" fill="#c9d2ff" opacity="0.7"/><rect x="764.9" y="653.8" width="7" height="4" fill="#ff9a4a" opacity="0.7"/><rect x="782.7" y="639.3" width="7" height="9" fill="#c9d2ff" opacity="0.9"/><rect x="772.6" y="627.6" width="7" height="4" fill="#ffe6a8" opacity="0.55"/><rect x="773" y="663.5" width="7" height="4" fill="#ffb45a" opacity="0.7"/><rect x="771.8" y="675.6" width="4" height="9" fill="#ff9a4a" opacity="0.55"/><rect x="798" y="679.6" width="7" height="6" fill="#ff9a4a" opacity="0.55"/><rect x="769.2" y="726.2" width="7" height="4" fill="#ffe6a8" opacity="0.55"/><rect x="797.5" y="555.3" width="4" height="4" fill="#c9d2ff" opacity="0.7"/><rect x="788.6" y="622" width="4" height="9" fill="#ffb45a" opacity="0.55"/><rect x="771" y="712" width="4" height="4" fill="#c9d2ff" opacity="0.7"/><rect x="793.3" y="622.3" width="7" height="9" fill="#ffb45a" opacity="0.7"/><rect x="778.1" y="563.4" width="7" height="6" fill="#ff9a4a" opacity="0.55"/><rect x="788.9" y="716.6" width="7" height="9" fill="#c9d2ff" opacity="0.9"/><rect x="789.2" y="619.2" width="7" height="9" fill="#ffb45a" opacity="0.9"/><rect x="841.4" y="708.1" width="4" height="9" fill="#ff9a4a" opacity="0.55"/><rect x="832.4" y="670" width="5" height="9" fill="#ffe6a8" opacity="0.9"/><rect x="811.7" y="665.9" width="7" height="9" fill="#c9d2ff" opacity="0.9"/><rect x="813.9" y="717.1" width="5" height="4" fill="#c9d2ff" opacity="0.9"/><rect x="840.6" y="677.7" width="7" height="6" fill="#ffb45a" opacity="0.55"/><rect x="822.8" y="674.3" width="4" height="6" fill="#ffd27a" opacity="0.9"/><rect x="816.3" y="701.2" width="7" height="6" fill="#ffb45a" opacity="0.55"/><rect x="840.2" y="670.4" width="7" height="6" fill="#ffb45a" opacity="0.9"/><rect x="808.6" y="710.3" width="7" height="6" fill="#ffe6a8" opacity="0.7"/><rect x="836.2" y="670.4" width="5" height="9" fill="#ffb45a" opacity="0.55"/><rect x="835.7" y="689.1" width="5" height="6" fill="#ffd27a" opacity="0.7"/><rect x="823.2" y="617.6" width="5" height="9" fill="#c9d2ff" opacity="0.9"/><rect x="833.6" y="685" width="4" height="6" fill="#ffd27a" opacity="0.9"/><rect x="823.2" y="729.5" width="5" height="6" fill="#ffb45a" opacity="0.55"/><rect x="814.3" y="726.6" width="7" height="4" fill="#ffd27a" opacity="0.7"/><rect x="897.9" y="695.3" width="5" height="9" fill="#ffb45a" opacity="0.9"/><rect x="909" y="705.9" width="5" height="6" fill="#c9d2ff" opacity="0.9"/><rect x="898.3" y="703.7" width="5" height="4" fill="#c9d2ff" opacity="0.7"/><rect x="901.5" y="690.6" width="7" height="4" fill="#c9d2ff" opacity="0.7"/><rect x="860.2" y="695.5" width="5" height="4" fill="#ffe6a8" opacity="0.9"/><rect x="877.8" y="661.1" width="7" height="9" fill="#c9d2ff" opacity="0.55"/><rect x="898.9" y="644.5" width="5" height="4" fill="#ffe6a8" opacity="0.55"/><rect x="908.8" y="721.6" width="7" height="6" fill="#ffb45a" opacity="0.9"/><rect x="894.4" y="686.3" width="4" height="9" fill="#ffb45a" opacity="0.7"/><rect x="874.8" y="607.4" width="4" height="4" fill="#ffb45a" opacity="0.7"/><rect x="880.4" y="614.7" width="7" height="4" fill="#c9d2ff" opacity="0.9"/><rect x="912.6" y="679.4" width="7" height="9" fill="#ffd27a" opacity="0.9"/><rect x="909.5" y="621" width="7" height="4" fill="#ffb45a" opacity="0.9"/><rect x="909.5" y="688.3" width="7" height="4" fill="#ffd27a" opacity="0.7"/><rect x="884.7" y="710.4" width="5" height="9" fill="#c9d2ff" opacity="0.55"/><rect x="888.6" y="721.6" width="4" height="6" fill="#c9d2ff" opacity="0.55"/><rect x="891.8" y="715.5" width="4" height="6" fill="#ffd27a" opacity="0.7"/><rect x="901.1" y="663.7" width="5" height="6" fill="#ffe6a8" opacity="0.7"/><rect x="884.7" y="729.4" width="4" height="9" fill="#ffd27a" opacity="0.7"/><rect x="897.5" y="597.1" width="4" height="9" fill="#ff9a4a" opacity="0.9"/><rect x="915" y="639.9" width="7" height="6" fill="#ffd27a" opacity="0.7"/><rect x="904.7" y="613.5" width="7" height="6" fill="#ffb45a" opacity="0.9"/><rect x="867.5" y="606.4" width="5" height="6" fill="#ffe6a8" opacity="0.9"/><rect x="892.7" y="722.6" width="5" height="6" fill="#ffe6a8" opacity="0.7"/><rect x="874.8" y="600.5" width="5" height="6" fill="#ffe6a8" opacity="0.7"/><rect x="883.8" y="664.5" width="7" height="6" fill="#ffe6a8" opacity="0.55"/><rect x="935.9" y="712.3" width="4" height="6" fill="#ffe6a8" opacity="0.9"/><rect x="931.6" y="689.9" width="4" height="6" fill="#ffd27a" opacity="0.9"/><rect x="934.7" y="670.3" width="4" height="6" fill="#ff9a4a" opacity="0.7"/><rect x="929.3" y="631.1" width="7" height="9" fill="#c9d2ff" opacity="0.55"/><rect x="937.5" y="725.2" width="5" height="9" fill="#ff9a4a" opacity="0.55"/><rect x="935.5" y="701.9" width="7" height="4" fill="#ff9a4a" opacity="0.55"/><rect x="948.9" y="689.6" width="4" height="9" fill="#ffb45a" opacity="0.55"/><rect x="967.1" y="663.3" width="7" height="4" fill="#ffd27a" opacity="0.7"/><rect x="967.2" y="628.2" width="7" height="9" fill="#ffe6a8" opacity="0.7"/><rect x="967" y="633.9" width="5" height="4" fill="#ffd27a" opacity="0.7"/><rect x="960.5" y="682.7" width="5" height="9" fill="#ffd27a" opacity="0.9"/><rect x="948.9" y="625.7" width="7" height="9" fill="#c9d2ff" opacity="0.7"/><rect x="957.8" y="612.8" width="7" height="9" fill="#c9d2ff" opacity="0.9"/><rect x="969.6" y="670" width="7" height="4" fill="#c9d2ff" opacity="0.55"/><rect x="962.2" y="637.3" width="7" height="4" fill="#ffb45a" opacity="0.7"/><rect x="948.1" y="695.8" width="4" height="4" fill="#ffd27a" opacity="0.55"/><rect x="982.1" y="647.6" width="4" height="6" fill="#ff9a4a" opacity="0.9"/><rect x="1001.8" y="728.1" width="7" height="9" fill="#ffe6a8" opacity="0.9"/><rect x="1005.4" y="710.9" width="5" height="9" fill="#ffd27a" opacity="0.9"/><rect x="1000.7" y="687" width="4" height="9" fill="#ffe6a8" opacity="0.55"/><rect x="978.4" y="647.3" width="4" height="6" fill="#ff9a4a" opacity="0.7"/><rect x="988" y="699.4" width="7" height="4" fill="#c9d2ff" opacity="0.7"/><rect x="989.8" y="697.2" width="5" height="9" fill="#c9d2ff" opacity="0.55"/><rect x="982.6" y="717" width="7" height="4" fill="#ffe6a8" opacity="0.9"/><rect x="1003.7" y="688.4" width="5" height="9" fill="#c9d2ff" opacity="0.7"/><rect x="987.4" y="651.4" width="5" height="9" fill="#ff9a4a" opacity="0.9"/><rect x="1055.1" y="709.4" width="5" height="9" fill="#ff9a4a" opacity="0.7"/><rect x="1055.1" y="620.4" width="7" height="6" fill="#c9d2ff" opacity="0.9"/><rect x="1047.3" y="618.6" width="5" height="9" fill="#c9d2ff" opacity="0.55"/><rect x="1030.2" y="623.7" width="7" height="4" fill="#ffb45a" opacity="0.7"/><rect x="1049.7" y="706.4" width="4" height="6" fill="#ff9a4a" opacity="0.9"/><rect x="1044" y="721.9" width="7" height="4" fill="#ffe6a8" opacity="0.9"/><rect x="1039" y="704.2" width="7" height="4" fill="#ffb45a" opacity="0.7"/><rect x="1041.1" y="686" width="7" height="4" fill="#c9d2ff" opacity="0.7"/><rect x="1040.3" y="584.4" width="5" height="9" fill="#c9d2ff" opacity="0.55"/><rect x="1038.4" y="637" width="4" height="6" fill="#ffd27a" opacity="0.9"/><rect x="1037.8" y="622.5" width="5" height="6" fill="#ff9a4a" opacity="0.9"/><rect x="1040.4" y="611.8" width="4" height="4" fill="#ffb45a" opacity="0.9"/><rect x="1029" y="670.8" width="5" height="9" fill="#ffe6a8" opacity="0.55"/><rect x="1027.4" y="723.2" width="5" height="4" fill="#c9d2ff" opacity="0.7"/><rect x="1042" y="702.7" width="5" height="9" fill="#ffb45a" opacity="0.55"/><rect x="1031.1" y="662" width="4" height="4" fill="#ffd27a" opacity="0.55"/><rect x="1055.6" y="714.6" width="7" height="9" fill="#c9d2ff" opacity="0.55"/><rect x="1027.9" y="701.4" width="4" height="6" fill="#c9d2ff" opacity="0.9"/><rect x="1077.1" y="730.7" width="4" height="6" fill="#ffe6a8" opacity="0.55"/><rect x="1079.9" y="662.2" width="4" height="4" fill="#ffd27a" opacity="0.9"/><rect x="1069.9" y="700.6" width="4" height="9" fill="#c9d2ff" opacity="0.9"/><rect x="1070.4" y="632" width="5" height="6" fill="#ffd27a" opacity="0.9"/><rect x="1067.7" y="628.5" width="5" height="4" fill="#ff9a4a" opacity="0.7"/><rect x="1077.6" y="661.4" width="7" height="4" fill="#ffb45a" opacity="0.55"/><rect x="1064.6" y="647.9" width="4" height="9" fill="#ffe6a8" opacity="0.55"/><rect x="1143.6" y="612.1" width="7" height="9" fill="#ff9a4a" opacity="0.9"/><rect x="1138.7" y="668.4" width="4" height="6" fill="#ffd27a" opacity="0.55"/><rect x="1150.1" y="693.3" width="7" height="9" fill="#ffe6a8" opacity="0.7"/><rect x="1138.5" y="619.6" width="5" height="6" fill="#ffe6a8" opacity="0.7"/><rect x="1097.9" y="668.1" width="5" height="4" fill="#ffb45a" opacity="0.55"/><rect x="1148.5" y="721.1" width="7" height="4" fill="#c9d2ff" opacity="0.55"/><rect x="1100" y="713.4" width="7" height="6" fill="#ffd27a" opacity="0.9"/><rect x="1098.9" y="663.7" width="5" height="4" fill="#ffd27a" opacity="0.9"/><rect x="1094.8" y="731.4" width="4" height="6" fill="#ffe6a8" opacity="0.55"/><rect x="1130.2" y="624.4" width="7" height="4" fill="#ffb45a" opacity="0.55"/><rect x="1135.7" y="677.4" width="5" height="4" fill="#ffb45a" opacity="0.7"/><rect x="1116.8" y="637.8" width="5" height="9" fill="#ffd27a" opacity="0.7"/><rect x="1111.4" y="627.6" width="4" height="6" fill="#c9d2ff" opacity="0.7"/><rect x="1147.8" y="620.7" width="4" height="9" fill="#ff9a4a" opacity="0.9"/><rect x="1149.2" y="678.2" width="4" height="6" fill="#ffe6a8" opacity="0.55"/><rect x="1152.1" y="661.7" width="4" height="4" fill="#ffe6a8" opacity="0.55"/><rect x="1115" y="659.6" width="4" height="9" fill="#ffb45a" opacity="0.7"/><rect x="1099.2" y="688.5" width="7" height="6" fill="#c9d2ff" opacity="0.9"/><rect x="1099" y="606.2" width="5" height="4" fill="#ff9a4a" opacity="0.7"/><rect x="1117.9" y="723.6" width="5" height="9" fill="#ffb45a" opacity="0.55"/><rect x="1098.8" y="629.2" width="7" height="4" fill="#ffb45a" opacity="0.55"/><rect x="1128.4" y="712.9" width="7" height="6" fill="#ff9a4a" opacity="0.7"/><rect x="1101.2" y="623.7" width="7" height="6" fill="#ffb45a" opacity="0.55"/><rect x="1090.6" y="695.3" width="5" height="9" fill="#ff9a4a" opacity="0.55"/><rect x="1123.2" y="650.8" width="7" height="6" fill="#ffe6a8" opacity="0.55"/><rect x="1162.9" y="725.8" width="4" height="9" fill="#c9d2ff" opacity="0.7"/><rect x="1176.9" y="690.4" width="4" height="4" fill="#ffe6a8" opacity="0.9"/><rect x="1184.3" y="693.7" width="5" height="9" fill="#ffd27a" opacity="0.7"/><rect x="1220.1" y="640.3" width="7" height="4" fill="#ffe6a8" opacity="0.7"/><rect x="1208.7" y="721.5" width="4" height="6" fill="#ff9a4a" opacity="0.55"/><rect x="1219.2" y="683.5" width="4" height="9" fill="#ff9a4a" opacity="0.9"/><rect x="1170.1" y="657.8" width="4" height="9" fill="#ffd27a" opacity="0.55"/><rect x="1172.1" y="664.8" width="4" height="4" fill="#ff9a4a" opacity="0.55"/><rect x="1217.6" y="708.4" width="4" height="9" fill="#ffe6a8" opacity="0.9"/><rect x="1196.6" y="686.3" width="4" height="6" fill="#c9d2ff" opacity="0.55"/><rect x="1205" y="637.6" width="5" height="6" fill="#ffd27a" opacity="0.9"/><rect x="1192" y="661.5" width="4" height="6" fill="#ffd27a" opacity="0.55"/><rect x="1194.5" y="656.2" width="4" height="9" fill="#ffb45a" opacity="0.9"/><rect x="1189.7" y="673.5" width="7" height="6" fill="#ffd27a" opacity="0.9"/><rect x="1187.2" y="718.7" width="4" height="6" fill="#ff9a4a" opacity="0.55"/><rect x="1208.6" y="667.5" width="5" height="9" fill="#ffb45a" opacity="0.7"/><rect x="1212.6" y="690.6" width="5" height="9" fill="#ffe6a8" opacity="0.55"/><rect x="1181.5" y="648" width="4" height="6" fill="#ffe6a8" opacity="0.9"/><rect x="1200" y="670.2" width="4" height="4" fill="#ff9a4a" opacity="0.7"/><rect x="446" y="578" width="110" height="170" fill="#d9772c" opacity="0.75"/><rect x="470" y="590" width="30" height="158" fill="#ffc56a" opacity="0.7"/><rect x="690" y="480" width="26" height="40" fill="#d8505a" opacity="0.6"/><rect x="762" y="532" width="38" height="16" fill="#d8505a" opacity="0.55"/><rect x="604" y="530" width="36" height="14" fill="#d86a4a" opacity="0.5"/><rect x="196" y="620" width="10" height="100" fill="#e8ecff" opacity="0.9"/><rect x="262" y="622" width="8" height="93" fill="#e8ecff" opacity="0.85"/><rect x="862" y="590" width="58" height="50" fill="#aab4e8" opacity="0.45"/><ellipse cx="500" cy="750" rx="150" ry="120" fill="url(#glow)"/><ellipse cx="720" cy="750" rx="170" ry="110" fill="url(#glow)"/><ellipse cx="960" cy="750" rx="190" ry="100" fill="url(#glow)"/><ellipse cx="1130" cy="750" rx="120" ry="80" fill="url(#glow)"/><ellipse cx="300" cy="750" rx="120" ry="70" fill="url(#glow)"/><rect x="108" y="690" width="1120" height="60" fill="#ffa040" opacity="0.42"/><path d="M108 728 q40-14 90-4 q50-12 110 0 q60-10 120 0 q80-14 150 0 q70-12 140 0 q90-14 170 0 q80-12 150 0 q60-8 100 0 q50-8 100 0 V748 H108z" fill="#201a30" opacity="0.75"/><rect x="108" y="742" width="1120" height="5" fill="#f4d548"/><rect x="108" y="747" width="1120" height="3" fill="#5a3a20"/></g></g><text x="724.7" y="156.56" font-size="30.5" letter-spacing="0.77" fill="#141414" stroke="#141414" stroke-width="0.43" stroke-linejoin="round">基于互联网的会议空间管理</text><text x="320.1" y="208.26" font-size="22.6" letter-spacing="0.85" fill="#141414" stroke="#141414" stroke-width="0.36" stroke-linejoin="round">会议室资源的高效利用一直是人们关注的问题，随着计算机与网络技术的不断发展，会议预约管理平台应用而生.</text><text x="319.5" y="249.02" font-size="22.6" letter-spacing="0.85" fill="#141414" stroke="#141414" stroke-width="0.36" stroke-linejoin="round">采用会议预约管理平台对会议室进行线上管理，替代传统的线下管理模式，有效提高会议室使用效率，降低了管理成本。</text><text x="569.8" y="459.52" font-size="19" letter-spacing="0.43" fill="#989898" stroke="#989898" stroke-width="0.27" stroke-linejoin="round">会议预定系统服务器</text><text x="900.2" y="459.94" font-size="19" letter-spacing="0.39" fill="#989898" stroke="#989898" stroke-width="0.27" stroke-linejoin="round">与OA系统对接</text><text x="1167.2" y="458.94" font-size="19" letter-spacing="0.34" fill="#989898" stroke="#989898" stroke-width="0.27" stroke-linejoin="round">OA系统PC端</text><text x="1378.4" y="436.94" font-size="19" letter-spacing="0.63" fill="#989898" stroke="#989898" stroke-width="0.27" stroke-linejoin="round">OA系统手机端</text><text x="1367.9" y="466.54" font-size="18.4" letter-spacing="-0.49" fill="#989898" stroke="#989898" stroke-width="0.26" stroke-linejoin="round">wifi</text><text x="319.3" y="480.46" font-size="19" letter-spacing="-0.18" fill="#989898" stroke="#989898" stroke-width="0.27" stroke-linejoin="round">LAN</text><text x="230.5" y="752.35" font-size="19.7" font-weight="500" letter-spacing="-0.07" fill="#fff">（预约屏）</text><text x="343.6" y="719.91" font-size="19.7" font-weight="500" letter-spacing="-0.14" fill="#fff">（传感 器）</text><text x="256.8" y="980.92" font-size="19.7" font-weight="500" letter-spacing="-0.16" fill="#fff">（小型会议室）</text><text x="629.6" y="745.25" font-size="19.7" font-weight="500" letter-spacing="-0.07" fill="#fff">（预约屏）</text><text x="756.5" y="718.51" font-size="19.7" font-weight="500" letter-spacing="0.08" fill="#fff">（传感 器）</text><text x="658.4" y="982.62" font-size="19.7" font-weight="500" letter-spacing="0.02" fill="#fff">（中型会议室）</text><text x="1042.1" y="747.45" font-size="19.7" font-weight="500" letter-spacing="0.03" fill="#fff">（预约屏）</text><text x="1167.8" y="725.21" font-size="19.7" font-weight="500" letter-spacing="0.06" fill="#fff">（传感 器）</text><text x="1086" y="981.52" font-size="19.7" font-weight="500" letter-spacing="0.04" fill="#fff">（大型会议室）</text><text x="1435" y="776.51" font-size="19.7" font-weight="500" letter-spacing="0.02" fill="#fff">（集中信息会议发布屏）</text><text x="1436.1" y="975.41" font-size="19.7" font-weight="500" letter-spacing="-0.02" fill="#fff">（集中信息会议发布屏）</text><text x="1435.05" y="621.71" font-size="5.6" font-weight="bold" letter-spacing="-0.57" fill="#f2f2f2">会议列表</text><text x="1486.7" y="859.13" font-size="24.4" font-weight="500" letter-spacing="-0.11" fill="#2a1c18" stroke="#2a1c18" stroke-width="0.73" stroke-linejoin="round">企业宣传片</text><text x="1485.9" y="858.33" font-size="24.4" font-weight="500" letter-spacing="-0.11" fill="#f8e9c4" stroke="#f8e9c4" stroke-width="0.24" stroke-linejoin="round">企业宣传片</text></svg></body></html>
